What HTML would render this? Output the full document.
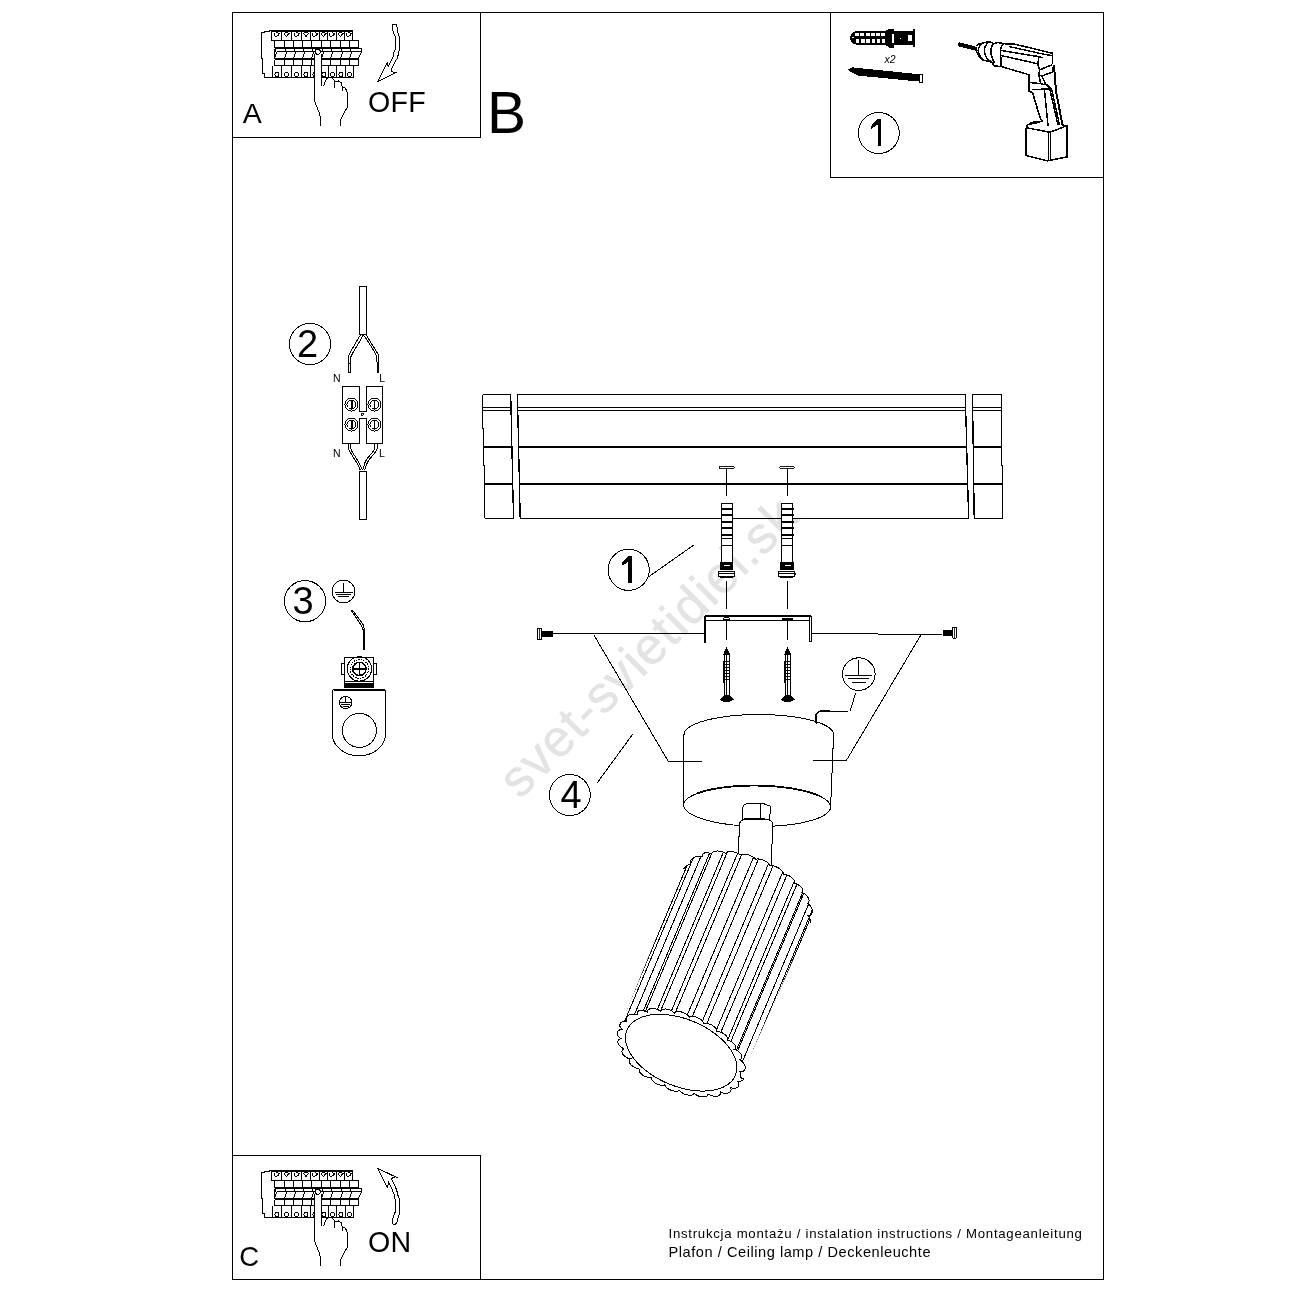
<!DOCTYPE html>
<html><head><meta charset="utf-8">
<style>
html,body{margin:0;padding:0;background:#fff;width:1300px;height:1300px;overflow:hidden}
svg{display:block;will-change:transform}
text{font-family:"Liberation Sans",sans-serif;fill:#000}
</style></head>
<body>
<svg width="1300" height="1300" viewBox="0 0 1300 1300" shape-rendering="crispEdges">
<g fill="none" stroke="#000" stroke-width="1" shape-rendering="crispEdges">
<rect x="232.5" y="12.5" width="871" height="1267"/>
<path d="M480.5 12.5V137.5H232.5"/>
<path d="M830.5 12.5V177.5H1103.5"/>
<path d="M232.5 1155.5H480.5V1279.5"/>
</g>
<text transform="translate(520,800.2) rotate(-45)" font-size="52" letter-spacing="1.05" fill="#e3e3e3" stroke="#e3e3e3" stroke-width="0.4" style="fill:#e3e3e3">svet-svietidiel.sk</text>
<text x="242.80" y="122.90" font-size="28.50" >A</text>
<text x="368.00" y="111.70" font-size="28.60" letter-spacing="0.3">OFF</text>
<text x="486.90" y="132.60" font-size="58.50" >B</text>
<text x="239.30" y="1265.90" font-size="27.50" >C</text>
<text x="368.00" y="1251.90" font-size="28.60" letter-spacing="0.3">ON</text>
<text x="668.50" y="1237.60" font-size="13.20" textLength="413.4" lengthAdjust="spacing">Instrukcja montażu / instalation instructions / Montageanleitung</text>
<text x="668.50" y="1256.90" font-size="14.60" textLength="262" lengthAdjust="spacing">Plafon / Ceiling lamp / Deckenleuchte</text>
<g fill="none" stroke="#000" stroke-width="1" shape-rendering="crispEdges"><path d="M271.50,30.50 L269.50,30.50 L269.50,31.50 L264.50,31.50 L264.50,32.50 L261.50,32.50 L261.50,58.50 L262.50,58.50 L262.50,73.50 L264.50,73.50 L264.50,77.50 L272.50,77.50" /><path d="M271.50,30.50 L352.50,30.50" stroke-width="2"/><path d="M271.50,30.50 L271.50,40.50 L274.50,40.50" /><path d="M352.50,30.50 L352.50,40.50" /><line x1="281.50" y1="30.50" x2="281.50" y2="40.50" stroke-width="1"/><line x1="291.50" y1="30.50" x2="291.50" y2="40.50" stroke-width="1"/><line x1="301.50" y1="30.50" x2="301.50" y2="40.50" stroke-width="1"/><line x1="310.50" y1="30.50" x2="310.50" y2="40.50" stroke-width="1"/><line x1="319.50" y1="30.50" x2="319.50" y2="40.50" stroke-width="1"/><line x1="327.50" y1="30.50" x2="327.50" y2="40.50" stroke-width="1"/><line x1="336.50" y1="30.50" x2="336.50" y2="40.50" stroke-width="1"/><line x1="344.50" y1="30.50" x2="344.50" y2="40.50" stroke-width="1"/><line x1="271.50" y1="40.50" x2="358.50" y2="40.50" stroke-width="1"/><path d="M274.00,32.50 L274.00,35.50 L275.50,36.50 L278.00,35.50 L279.00,33.50 L276.50,32.50" /><path d="M284.00,33.50 L286.50,36.50 L289.00,33.50 L287.50,32.50 L285.50,32.50 L284.00,33.50" /><path d="M294.00,32.50 L294.00,35.50 L295.50,36.50 L298.00,35.50 L299.00,33.50 L296.50,32.50" /><path d="M303.50,33.50 L306.00,36.50 L308.50,33.50 L307.00,32.50 L305.00,32.50 L303.50,33.50" /><path d="M312.50,32.50 L312.50,35.50 L314.00,36.50 L316.50,35.50 L317.50,33.50 L315.00,32.50" /><path d="M321.00,33.50 L323.50,36.50 L326.00,33.50 L324.50,32.50 L322.50,32.50 L321.00,33.50" /><path d="M329.50,32.50 L329.50,35.50 L331.00,36.50 L333.50,35.50 L334.50,33.50 L332.00,32.50" /><path d="M338.00,33.50 L340.50,36.50 L343.00,33.50 L341.50,32.50 L339.50,32.50 L338.00,33.50" /><path d="M346.00,32.50 L346.00,35.50 L347.50,36.50 L350.00,35.50 L351.00,33.50 L348.50,32.50" /><line x1="274.50" y1="40.50" x2="274.50" y2="47.50" stroke-width="1"/><line x1="284.50" y1="40.50" x2="284.50" y2="47.50" stroke-width="1"/><line x1="293.50" y1="40.50" x2="293.50" y2="47.50" stroke-width="1"/><line x1="302.50" y1="40.50" x2="302.50" y2="47.50" stroke-width="1"/><line x1="311.50" y1="40.50" x2="311.50" y2="47.50" stroke-width="1"/><line x1="321.50" y1="40.50" x2="321.50" y2="47.50" stroke-width="1"/><line x1="330.50" y1="40.50" x2="330.50" y2="47.50" stroke-width="1"/><line x1="340.50" y1="40.50" x2="340.50" y2="47.50" stroke-width="1"/><line x1="349.50" y1="40.50" x2="349.50" y2="47.50" stroke-width="1"/><line x1="358.50" y1="40.50" x2="358.50" y2="47.50" stroke-width="1"/><line x1="274.50" y1="47.50" x2="358.50" y2="47.50" stroke-width="1"/><line x1="274.50" y1="48.50" x2="361.50" y2="48.50" stroke-width="1"/><line x1="276.50" y1="51.50" x2="361.50" y2="51.50" stroke-width="1"/><path d="M361.50,48.50 L361.50,51.50 L358.50,58.50" /><path d="M274.50,48.50 L274.50,58.50" /><line x1="275.00" y1="48.50" x2="275.00" y2="51.50" stroke-width="1"/><line x1="277.00" y1="52.00" x2="274.50" y2="58.00" stroke-width="1"/><line x1="285.00" y1="48.50" x2="285.00" y2="51.50" stroke-width="1"/><line x1="287.00" y1="52.00" x2="284.50" y2="58.00" stroke-width="1"/><line x1="294.00" y1="48.50" x2="294.00" y2="51.50" stroke-width="1"/><line x1="296.00" y1="52.00" x2="293.50" y2="58.00" stroke-width="1"/><line x1="303.00" y1="48.50" x2="303.00" y2="51.50" stroke-width="1"/><line x1="305.00" y1="52.00" x2="302.50" y2="58.00" stroke-width="1"/><line x1="312.00" y1="48.50" x2="312.00" y2="51.50" stroke-width="1"/><line x1="314.00" y1="52.00" x2="311.50" y2="58.00" stroke-width="1"/><line x1="322.00" y1="48.50" x2="322.00" y2="51.50" stroke-width="1"/><line x1="324.00" y1="52.00" x2="321.50" y2="58.00" stroke-width="1"/><line x1="331.00" y1="48.50" x2="331.00" y2="51.50" stroke-width="1"/><line x1="333.00" y1="52.00" x2="330.50" y2="58.00" stroke-width="1"/><line x1="341.00" y1="48.50" x2="341.00" y2="51.50" stroke-width="1"/><line x1="343.00" y1="52.00" x2="340.50" y2="58.00" stroke-width="1"/><line x1="350.00" y1="48.50" x2="350.00" y2="51.50" stroke-width="1"/><line x1="352.00" y1="52.00" x2="349.50" y2="58.00" stroke-width="1"/><line x1="274.50" y1="58.50" x2="358.50" y2="58.50" stroke-width="2"/><line x1="274.50" y1="59.50" x2="274.50" y2="65.50" stroke-width="1"/><line x1="284.50" y1="59.50" x2="284.50" y2="65.50" stroke-width="1"/><line x1="293.50" y1="59.50" x2="293.50" y2="65.50" stroke-width="1"/><line x1="302.50" y1="59.50" x2="302.50" y2="65.50" stroke-width="1"/><line x1="311.50" y1="59.50" x2="311.50" y2="65.50" stroke-width="1"/><line x1="321.50" y1="59.50" x2="321.50" y2="65.50" stroke-width="1"/><line x1="330.50" y1="59.50" x2="330.50" y2="65.50" stroke-width="1"/><line x1="340.50" y1="59.50" x2="340.50" y2="65.50" stroke-width="1"/><line x1="349.50" y1="59.50" x2="349.50" y2="65.50" stroke-width="1"/><line x1="358.50" y1="59.50" x2="358.50" y2="65.50" stroke-width="1"/><line x1="274.50" y1="65.50" x2="358.50" y2="65.50" stroke-width="1"/><line x1="272.50" y1="65.50" x2="272.50" y2="77.50" stroke-width="1"/><line x1="281.50" y1="65.50" x2="281.50" y2="77.50" stroke-width="1"/><line x1="291.50" y1="65.50" x2="291.50" y2="77.50" stroke-width="1"/><line x1="301.50" y1="65.50" x2="301.50" y2="77.50" stroke-width="1"/><line x1="310.50" y1="65.50" x2="310.50" y2="77.50" stroke-width="1"/><line x1="319.50" y1="65.50" x2="319.50" y2="77.50" stroke-width="1"/><line x1="328.50" y1="65.50" x2="328.50" y2="77.50" stroke-width="1"/><line x1="336.50" y1="65.50" x2="336.50" y2="77.50" stroke-width="1"/><line x1="345.50" y1="65.50" x2="345.50" y2="77.50" stroke-width="1"/><line x1="353.50" y1="65.50" x2="353.50" y2="77.50" stroke-width="1"/><line x1="264.50" y1="77.50" x2="353.50" y2="77.50" stroke-width="1"/><circle cx="277.00" cy="74.50" r="2"/><circle cx="286.50" cy="74.50" r="2"/><circle cx="296.50" cy="74.50" r="2"/><circle cx="306.00" cy="74.50" r="2"/><circle cx="315.00" cy="74.50" r="2"/><circle cx="324.00" cy="74.50" r="2"/><circle cx="332.50" cy="74.50" r="2"/><circle cx="341.00" cy="74.50" r="2"/><circle cx="349.50" cy="74.50" r="2"/></g>
<path d="M314.50,53.50 L316.00,51.00 L318.00,50.00 L320.00,50.50 L321.50,53.00 L321.50,85.50 L323.50,86.00 L325.50,81.00 L327.00,78.50 L329.00,77.50 L332.00,77.50 L334.00,80.00 L334.50,88.50 L335.50,82.00 L338.50,81.00 L341.00,82.50 L342.00,86.00 L342.00,91.00 L343.00,87.00 L345.50,88.50 L347.00,91.50 L347.50,107.00 L344.00,113.00 L341.00,119.00 L340.50,126.00 L320.50,126.00 L320.50,118.00 L319.00,112.00 L316.00,105.00 L314.50,100.50 Z" fill="#fff" stroke="none"/>
<g fill="none" stroke="#000" stroke-width="1"><path d="M320.50,126.00 L320.50,118.00 L319.00,112.00 L316.00,105.00 L314.50,100.50 L314.50,54.00"/><path d="M321.50,54.00 L321.50,85.50"/><path d="M323.50,86.50 L325.50,81.00 L327.00,78.50 L329.00,77.50 L332.00,77.50 L334.00,80.00 L334.50,88.50"/><path d="M335.50,82.00 L338.50,81.00 L341.00,82.50 L342.00,86.00 L342.00,91.00"/><path d="M343.00,87.00 L345.50,88.50 L347.00,91.50 L347.50,107.00 L344.00,113.00 L341.00,119.00 L340.50,126.00"/></g>
<circle cx="317.8" cy="51.80" r="2.6" fill="#fff" stroke="#000" stroke-width="1"/>
<g fill="none" stroke="#000" stroke-width="1" shape-rendering="crispEdges"><path d="M271.50,1170.50 L269.50,1170.50 L269.50,1171.50 L264.50,1171.50 L264.50,1172.50 L261.50,1172.50 L261.50,1198.50 L262.50,1198.50 L262.50,1213.50 L264.50,1213.50 L264.50,1217.50 L272.50,1217.50" /><path d="M271.50,1170.50 L352.50,1170.50" stroke-width="2"/><path d="M271.50,1170.50 L271.50,1180.50 L274.50,1180.50" /><path d="M352.50,1170.50 L352.50,1180.50" /><line x1="281.50" y1="1170.50" x2="281.50" y2="1180.50" stroke-width="1"/><line x1="291.50" y1="1170.50" x2="291.50" y2="1180.50" stroke-width="1"/><line x1="301.50" y1="1170.50" x2="301.50" y2="1180.50" stroke-width="1"/><line x1="310.50" y1="1170.50" x2="310.50" y2="1180.50" stroke-width="1"/><line x1="319.50" y1="1170.50" x2="319.50" y2="1180.50" stroke-width="1"/><line x1="327.50" y1="1170.50" x2="327.50" y2="1180.50" stroke-width="1"/><line x1="336.50" y1="1170.50" x2="336.50" y2="1180.50" stroke-width="1"/><line x1="344.50" y1="1170.50" x2="344.50" y2="1180.50" stroke-width="1"/><line x1="271.50" y1="1180.50" x2="358.50" y2="1180.50" stroke-width="1"/><path d="M274.00,1172.50 L274.00,1175.50 L275.50,1176.50 L278.00,1175.50 L279.00,1173.50 L276.50,1172.50" /><path d="M284.00,1173.50 L286.50,1176.50 L289.00,1173.50 L287.50,1172.50 L285.50,1172.50 L284.00,1173.50" /><path d="M294.00,1172.50 L294.00,1175.50 L295.50,1176.50 L298.00,1175.50 L299.00,1173.50 L296.50,1172.50" /><path d="M303.50,1173.50 L306.00,1176.50 L308.50,1173.50 L307.00,1172.50 L305.00,1172.50 L303.50,1173.50" /><path d="M312.50,1172.50 L312.50,1175.50 L314.00,1176.50 L316.50,1175.50 L317.50,1173.50 L315.00,1172.50" /><path d="M321.00,1173.50 L323.50,1176.50 L326.00,1173.50 L324.50,1172.50 L322.50,1172.50 L321.00,1173.50" /><path d="M329.50,1172.50 L329.50,1175.50 L331.00,1176.50 L333.50,1175.50 L334.50,1173.50 L332.00,1172.50" /><path d="M338.00,1173.50 L340.50,1176.50 L343.00,1173.50 L341.50,1172.50 L339.50,1172.50 L338.00,1173.50" /><path d="M346.00,1172.50 L346.00,1175.50 L347.50,1176.50 L350.00,1175.50 L351.00,1173.50 L348.50,1172.50" /><line x1="274.50" y1="1180.50" x2="274.50" y2="1187.50" stroke-width="1"/><line x1="284.50" y1="1180.50" x2="284.50" y2="1187.50" stroke-width="1"/><line x1="293.50" y1="1180.50" x2="293.50" y2="1187.50" stroke-width="1"/><line x1="302.50" y1="1180.50" x2="302.50" y2="1187.50" stroke-width="1"/><line x1="311.50" y1="1180.50" x2="311.50" y2="1187.50" stroke-width="1"/><line x1="321.50" y1="1180.50" x2="321.50" y2="1187.50" stroke-width="1"/><line x1="330.50" y1="1180.50" x2="330.50" y2="1187.50" stroke-width="1"/><line x1="340.50" y1="1180.50" x2="340.50" y2="1187.50" stroke-width="1"/><line x1="349.50" y1="1180.50" x2="349.50" y2="1187.50" stroke-width="1"/><line x1="358.50" y1="1180.50" x2="358.50" y2="1187.50" stroke-width="1"/><line x1="274.50" y1="1187.50" x2="358.50" y2="1187.50" stroke-width="1"/><line x1="274.50" y1="1188.50" x2="361.50" y2="1188.50" stroke-width="1"/><line x1="276.50" y1="1191.50" x2="361.50" y2="1191.50" stroke-width="1"/><path d="M361.50,1188.50 L361.50,1191.50 L358.50,1198.50" /><path d="M274.50,1188.50 L274.50,1198.50" /><line x1="275.00" y1="1188.50" x2="275.00" y2="1191.50" stroke-width="1"/><line x1="277.00" y1="1192.00" x2="274.50" y2="1198.00" stroke-width="1"/><line x1="285.00" y1="1188.50" x2="285.00" y2="1191.50" stroke-width="1"/><line x1="287.00" y1="1192.00" x2="284.50" y2="1198.00" stroke-width="1"/><line x1="294.00" y1="1188.50" x2="294.00" y2="1191.50" stroke-width="1"/><line x1="296.00" y1="1192.00" x2="293.50" y2="1198.00" stroke-width="1"/><line x1="303.00" y1="1188.50" x2="303.00" y2="1191.50" stroke-width="1"/><line x1="305.00" y1="1192.00" x2="302.50" y2="1198.00" stroke-width="1"/><line x1="312.00" y1="1188.50" x2="312.00" y2="1191.50" stroke-width="1"/><line x1="314.00" y1="1192.00" x2="311.50" y2="1198.00" stroke-width="1"/><line x1="322.00" y1="1188.50" x2="322.00" y2="1191.50" stroke-width="1"/><line x1="324.00" y1="1192.00" x2="321.50" y2="1198.00" stroke-width="1"/><line x1="331.00" y1="1188.50" x2="331.00" y2="1191.50" stroke-width="1"/><line x1="333.00" y1="1192.00" x2="330.50" y2="1198.00" stroke-width="1"/><line x1="341.00" y1="1188.50" x2="341.00" y2="1191.50" stroke-width="1"/><line x1="343.00" y1="1192.00" x2="340.50" y2="1198.00" stroke-width="1"/><line x1="350.00" y1="1188.50" x2="350.00" y2="1191.50" stroke-width="1"/><line x1="352.00" y1="1192.00" x2="349.50" y2="1198.00" stroke-width="1"/><line x1="274.50" y1="1198.50" x2="358.50" y2="1198.50" stroke-width="2"/><line x1="274.50" y1="1199.50" x2="274.50" y2="1205.50" stroke-width="1"/><line x1="284.50" y1="1199.50" x2="284.50" y2="1205.50" stroke-width="1"/><line x1="293.50" y1="1199.50" x2="293.50" y2="1205.50" stroke-width="1"/><line x1="302.50" y1="1199.50" x2="302.50" y2="1205.50" stroke-width="1"/><line x1="311.50" y1="1199.50" x2="311.50" y2="1205.50" stroke-width="1"/><line x1="321.50" y1="1199.50" x2="321.50" y2="1205.50" stroke-width="1"/><line x1="330.50" y1="1199.50" x2="330.50" y2="1205.50" stroke-width="1"/><line x1="340.50" y1="1199.50" x2="340.50" y2="1205.50" stroke-width="1"/><line x1="349.50" y1="1199.50" x2="349.50" y2="1205.50" stroke-width="1"/><line x1="358.50" y1="1199.50" x2="358.50" y2="1205.50" stroke-width="1"/><line x1="274.50" y1="1205.50" x2="358.50" y2="1205.50" stroke-width="1"/><line x1="272.50" y1="1205.50" x2="272.50" y2="1217.50" stroke-width="1"/><line x1="281.50" y1="1205.50" x2="281.50" y2="1217.50" stroke-width="1"/><line x1="291.50" y1="1205.50" x2="291.50" y2="1217.50" stroke-width="1"/><line x1="301.50" y1="1205.50" x2="301.50" y2="1217.50" stroke-width="1"/><line x1="310.50" y1="1205.50" x2="310.50" y2="1217.50" stroke-width="1"/><line x1="319.50" y1="1205.50" x2="319.50" y2="1217.50" stroke-width="1"/><line x1="328.50" y1="1205.50" x2="328.50" y2="1217.50" stroke-width="1"/><line x1="336.50" y1="1205.50" x2="336.50" y2="1217.50" stroke-width="1"/><line x1="345.50" y1="1205.50" x2="345.50" y2="1217.50" stroke-width="1"/><line x1="353.50" y1="1205.50" x2="353.50" y2="1217.50" stroke-width="1"/><line x1="264.50" y1="1217.50" x2="353.50" y2="1217.50" stroke-width="1"/><circle cx="277.00" cy="1214.50" r="2"/><circle cx="286.50" cy="1214.50" r="2"/><circle cx="296.50" cy="1214.50" r="2"/><circle cx="306.00" cy="1214.50" r="2"/><circle cx="315.00" cy="1214.50" r="2"/><circle cx="324.00" cy="1214.50" r="2"/><circle cx="332.50" cy="1214.50" r="2"/><circle cx="341.00" cy="1214.50" r="2"/><circle cx="349.50" cy="1214.50" r="2"/></g>
<path d="M314.50,1193.50 L316.00,1191.00 L318.00,1190.00 L320.00,1190.50 L321.50,1193.00 L321.50,1225.50 L323.50,1226.00 L325.50,1221.00 L327.00,1218.50 L329.00,1217.50 L332.00,1217.50 L334.00,1220.00 L334.50,1228.50 L335.50,1222.00 L338.50,1221.00 L341.00,1222.50 L342.00,1226.00 L342.00,1231.00 L343.00,1227.00 L345.50,1228.50 L347.00,1231.50 L347.50,1247.00 L344.00,1253.00 L341.00,1259.00 L340.50,1266.00 L320.50,1266.00 L320.50,1258.00 L319.00,1252.00 L316.00,1245.00 L314.50,1240.50 Z" fill="#fff" stroke="none"/>
<g fill="none" stroke="#000" stroke-width="1"><path d="M320.50,1266.00 L320.50,1258.00 L319.00,1252.00 L316.00,1245.00 L314.50,1240.50 L314.50,1194.00"/><path d="M321.50,1194.00 L321.50,1225.50"/><path d="M323.50,1226.50 L325.50,1221.00 L327.00,1218.50 L329.00,1217.50 L332.00,1217.50 L334.00,1220.00 L334.50,1228.50"/><path d="M335.50,1222.00 L338.50,1221.00 L341.00,1222.50 L342.00,1226.00 L342.00,1231.00"/><path d="M343.00,1227.00 L345.50,1228.50 L347.00,1231.50 L347.50,1247.00 L344.00,1253.00 L341.00,1259.00 L340.50,1266.00"/></g>
<circle cx="317.8" cy="1191.80" r="2.6" fill="#fff" stroke="#000" stroke-width="1"/>
<path d="M392.20,24.80 L396.20,24.80 L397.30,28.20 L397.80,32.50 L398.90,35.80 L399.40,36.30 L399.40,49.80 L398.40,53.50 L397.60,57.80 L396.20,60.00 L391.60,69.10 L391.60,71.30 L394.90,72.90 L397.30,72.40 L394.90,72.90 L377.90,81.50 L387.10,62.70 L388.10,66.40 L393.00,57.30 L393.50,55.10 L394.30,50.30 L395.40,49.80 L395.40,36.30 L394.60,35.80 L393.50,32.50 L392.40,28.20 L392.20,24.80" fill="none" stroke="#000" stroke-width="1"/>
<path d="M377.50,1168.20 L395.30,1176.80 L397.70,1177.30 L395.30,1176.80 L392.10,1178.20 L391.50,1179.20 L395.80,1187.80 L396.90,1191.10 L398.00,1195.40 L399.30,1199.10 L399.30,1213.70 L398.00,1218.00 L396.90,1222.30 L395.30,1224.50 L393.10,1224.50 L392.30,1222.80 L392.30,1220.10 L393.70,1215.80 L395.00,1212.60 L395.00,1199.10 L394.00,1194.30 L392.60,1190.50 L388.60,1182.50 L387.50,1187.30 L386.20,1185.10 L377.50,1168.20" fill="none" stroke="#000" stroke-width="1"/>
<path d="M856.5,31.1 L885.4,31.1 L889.5,28.8 L893.5,28.5 L893.5,30.8 L912.5,30.8 L912.5,29.3 L914.8,29.3 L914.8,46.6 L912.5,46.6 L912.5,45.2 L893.5,45.2 L893.5,48.4 L889.5,48.2 L885.4,44.6 L856.5,44.6 C852.5,44.6 850.2,41.5 850.2,37.9 C850.2,34.3 852.5,31.1 856.5,31.1 Z" fill="#000"/>
<g fill="#fff"><rect x="855.3" y="33.2" width="3.5" height="3.1"/><rect x="855.8" y="38.9" width="3.5" height="3.6"/><rect x="860.2" y="33.2" width="4.1" height="3.1"/><rect x="860.7" y="38.9" width="4.1" height="3.6"/><rect x="865.8" y="33.2" width="4.0" height="3.1"/><rect x="866.3" y="38.9" width="4.0" height="3.6"/><rect x="871.2" y="33.2" width="3.4" height="3.1"/><rect x="871.7" y="38.9" width="3.4" height="3.6"/><rect x="876.1" y="33.2" width="3.7" height="3.1"/><rect x="876.6" y="38.9" width="3.7" height="3.6"/><rect x="881.3" y="33.2" width="3.3" height="3.1"/><rect x="881.8" y="38.9" width="3.3" height="3.6"/><rect x="852.4" y="37" width="1.6" height="1.4"/><rect x="892" y="34.2" width="1.6" height="8.4"/><rect x="907.9" y="35.1" width="4" height="5.8"/><rect x="897.5" y="38" width="0.8" height="0.8"/><rect x="900" y="38" width="0.8" height="0.8"/></g>
<text x="884.50" y="62.70" font-size="10.50" font-style="italic">x2</text>
<path d="M848.00,69.60 L852.50,67.40 L918.80,74.20 L918.80,81.50 L858.00,75.60 L851.00,72.20 Z" fill="#000" stroke="none"/>
<rect x="919.8" y="74.8" width="2.8" height="7.6" fill="#fff" stroke="#000" stroke-width="1"/>
<circle cx="878.80" cy="133.00" r="20.50" fill="none" stroke="#000" stroke-width="1"/>
<path d="M880.90,119.10 L880.90,145.80 L877.60,145.80 L877.60,124.80 L871.00,128.90 L871.00,126.10 L877.30,119.10 Z" fill="#000" stroke="none"/>
<g fill="none" stroke="#000" stroke-width="1.5" stroke-linejoin="round"><path d="M959,42.2 L976.5,46.8 L976.5,51 L959,46.4 C957.5,46 957.3,42.6 959,42.2 Z" fill="#000" stroke="none"/><path d="M976.5,46 C978,44 980,43.5 982.5,43 L988.5,41.6 L994,43.5 L998,42.5 L1005,43.8 L1015,44.2 L1052.7,53.3 L1052.5,64.5" /><path d="M976.5,51.5 C978,55 980,58 983,60 L991.5,62 L994.5,66 L1001,66.5 L1027.5,74.3" /><path d="M982,44 C979,46 977.5,49 978.5,53 C979.5,56 981,58 983,60" /><path d="M989.5,41.6 C986,44 984,48 984.5,52 C985,56 987,59.5 991.5,62" /><path d="M993.8,43.8 C991.5,46 990.5,50 991,53 C991.2,56 992.5,59 994.5,63" /><path d="M1003.5,44 C1001,46 1000.5,48.5 1000.5,50.5 L1001.2,66.5" /><path d="M1001,50.5 L1038,56.5 L1042.5,57.8" /><path d="M1001,55.5 L1036.5,63.5 L1038.5,64.5" /><path d="M1009,46.5 L1045,54.5 L1052,55.5" /><path d="M1038.5,57.5 L1038,64.5 L1039.5,70 L1052.5,64.5" /><path d="M1039.5,70 L1039,74.8 L1042,76 L1052.5,72 L1053.5,65" /><path d="M1027.5,74.3 L1028.9,74.4 L1028.9,91.2 L1032.5,92.5 L1040,117.5 L1042,121.2 L1038.4,122.3 L1028,124.5 L1026,127.7" stroke-width="1.6"/><path d="M1054,65 L1056,91.5 L1062.5,124.8" stroke-width="2"/><path d="M1044.5,90.5 L1048,125.6" /><path d="M1050,90 L1058,125" /><path d="M1051.8,90 L1059.5,125" /><path d="M1029.5,82.5 L1039.5,83.5 L1047,85 L1051,89 L1032,89.5" /><path d="M1039,75 L1040.5,83.5" /><path d="M1042,76 L1045.5,84" /><path d="M1026,127.7 L1026,155.5 L1047.2,160.8 L1066.9,157 L1066.9,125.6 L1062.5,125.2" stroke-width="1.6"/><path d="M1026,127.7 L1049.4,132.1 L1055,130.5 L1066.9,125.6" /><path d="M1048.5,132 L1048.5,160" /><path d="M1050.6,132 L1050.6,160" /><path d="M1029,124.8 L1031,122.5 L1038.4,121.5" /></g>
<circle cx="310" cy="344" r="20.6" fill="none" stroke="#000" stroke-width="1"/>
<text x="297.00" y="356.60" font-size="38.00" >2</text>
<g fill="none" stroke="#000" stroke-width="1" shape-rendering="crispEdges"><rect x="359.5" y="286.5" width="7" height="48"/><rect x="359.5" y="471.5" width="7" height="48"/><path d="M360.5,335 L358.5,338 L350.5,352 L348.5,356 L348.5,372.5 L350.8,372.5 L350.8,357 L352.5,353.5 L361,339 L363,335"/><path d="M348.5,363 L350.8,363"/><path d="M363,335 L366.5,339 L375.5,353.5 L376.5,356 L376.5,362"/><path d="M366.5,335 L368,338 L378,354 L378.8,357 L378.8,362 L376.5,362"/><path d="M377.6,362 L377.6,372.5" stroke-width="2"/><path d="M342.5,386.5 H359.5 V411.5 H366.5 V386.5 H382.5 V443.5 H366.5 V418.5 H359.5 V443.5 H342.5 Z"/><path d="M348.5,444 L348.5,448.5 L350,452 L357.5,464 L360.5,470.5"/><path d="M350.5,444 L350.5,448 L352,451.5 L359.5,463.5 L362.5,470.5"/><path d="M374.7,444 L374.7,448.5 L373,451.5 L366.5,459.5 L365,462.5 L362.5,470.5"/><path d="M377.2,444 L377.2,449 L375.5,452 L368.5,460.5 L367.2,463 L364.5,470.5"/></g>
<circle cx="351.50" cy="404.50" r="6.5" fill="none" stroke="#000" stroke-width="1"/><circle cx="351.50" cy="404.50" r="4.5" fill="none" stroke="#000" stroke-width="1"/><rect x="350.50" y="401.30" width="2.00" height="6.5" fill="#000"/><circle cx="351.50" cy="424.50" r="6.5" fill="none" stroke="#000" stroke-width="1"/><circle cx="351.50" cy="424.50" r="4.5" fill="none" stroke="#000" stroke-width="1"/><rect x="350.50" y="421.30" width="2.00" height="6.5" fill="#000"/><circle cx="374.50" cy="404.50" r="6.5" fill="none" stroke="#000" stroke-width="1"/><circle cx="374.50" cy="404.50" r="4.5" fill="none" stroke="#000" stroke-width="1"/><rect x="374.00" y="401.30" width="1.00" height="6.5" fill="#000"/><circle cx="374.50" cy="424.50" r="6.5" fill="none" stroke="#000" stroke-width="1"/><circle cx="374.50" cy="424.50" r="4.5" fill="none" stroke="#000" stroke-width="1"/><rect x="374.00" y="421.30" width="1.00" height="6.5" fill="#000"/>
<path d="M361.7,412.5 L361.7,416 L364.2,414.3 Z" fill="none" stroke="#000" stroke-width="0.9"/>
<text x="333.00" y="381.70" font-size="10.50" >N</text>
<text x="379.20" y="381.70" font-size="10.50" >L</text>
<text x="333.00" y="456.80" font-size="10.50" >N</text>
<text x="379.10" y="456.80" font-size="10.50" >L</text>
<circle cx="305" cy="601.2" r="20.6" fill="none" stroke="#000" stroke-width="1"/>
<text x="292.40" y="613.60" font-size="38.00" >3</text>
<circle cx="343.50" cy="591.50" r="11.30" fill="none" stroke="#000" stroke-width="1"/><g stroke="#000" stroke-width="1" shape-rendering="crispEdges"><line x1="343.50" y1="582.90" x2="343.50" y2="592.20"/><line x1="334.50" y1="592.20" x2="352.50" y2="592.20"/><line x1="336.30" y1="594.30" x2="350.70" y2="594.30"/><line x1="338.40" y1="596.40" x2="348.60" y2="596.40"/></g>
<path d="M351.1,610.2 L357,619 L361.5,625.5 L363.2,630 L363.2,638.3 L364.8,638.3 L364.8,630 L363,624.5 L358.5,618 L352.5,610" fill="none" stroke="#000" stroke-width="1"/>
<line x1="364" y1="638.3" x2="364" y2="649.5" stroke="#000" stroke-width="1.6"/>
<g fill="none" stroke="#000" stroke-width="1"><path d="M332.3,692 Q332.3,689.5 335,689.5 L383,689.5 Q385.6,689.5 385.6,692 L385.6,733.8 A26.65,22 0 0 1 332.3,733.8 Z" fill="#fff"/><line x1="333.5" y1="689.6" x2="384.5" y2="689.6" stroke-width="2"/><circle cx="359.4" cy="730.4" r="17" /><rect x="344.6" y="657.2" width="29.2" height="30" fill="#fff"/><rect x="341.2" y="663.1" width="3.4" height="11.5" fill="#fff"/><rect x="373.8" y="663.1" width="3" height="11.5" fill="#fff"/><circle cx="359.4" cy="668.9" r="12.2"/><circle cx="359.4" cy="668.9" r="9.3" stroke-dasharray="1.5 1"/><circle cx="359.4" cy="668.9" r="6.6" stroke-width="1.6"/><line x1="354" y1="668.9" x2="365" y2="668.9" stroke-width="1.4"/><line x1="359.4" y1="663" x2="359.4" y2="674.5" stroke-width="1.4"/><rect x="344.6" y="681.3" width="29.2" height="6" fill="#000"/><line x1="345" y1="682.8" x2="373.4" y2="682.8" stroke="#fff" stroke-width="1"/><circle cx="345.6" cy="702.5" r="6.2"/><line x1="345.6" y1="697" x2="345.6" y2="702"/><line x1="340" y1="702.5" x2="351.2" y2="702.5"/><line x1="341" y1="704.5" x2="350" y2="704.5"/><line x1="342.5" y1="706.5" x2="348.5" y2="706.5"/></g>
<g fill="none" stroke="#000" stroke-width="1"><line x1="482.50" y1="394.50" x2="510.70" y2="394.50" stroke-width="1"/><line x1="517.40" y1="394.50" x2="965.30" y2="394.50" stroke-width="1"/><line x1="972.50" y1="394.50" x2="1001.60" y2="394.50" stroke-width="1"/><line x1="482.50" y1="407.80" x2="511.00" y2="407.80" stroke-width="1"/><line x1="517.70" y1="407.80" x2="965.65" y2="407.80" stroke-width="1"/><line x1="972.68" y1="407.80" x2="1001.60" y2="407.80" stroke-width="1"/><line x1="482.50" y1="410.70" x2="511.07" y2="410.70" stroke-width="1"/><line x1="517.77" y1="410.70" x2="965.73" y2="410.70" stroke-width="1"/><line x1="972.72" y1="410.70" x2="1001.60" y2="410.70" stroke-width="1"/><line x1="483.50" y1="446.90" x2="511.89" y2="446.90" stroke-width="2"/><line x1="518.59" y1="446.90" x2="966.70" y2="446.90" stroke-width="2"/><line x1="973.22" y1="446.90" x2="1001.60" y2="446.90" stroke-width="2"/><line x1="484.50" y1="483.70" x2="512.72" y2="483.70" stroke-width="2"/><line x1="519.42" y1="483.70" x2="967.68" y2="483.70" stroke-width="2"/><line x1="973.73" y1="483.70" x2="1002.50" y2="483.70" stroke-width="2"/><line x1="484.50" y1="518.20" x2="513.50" y2="518.20" stroke-width="1"/><line x1="520.20" y1="518.20" x2="968.60" y2="518.20" stroke-width="1"/><line x1="974.20" y1="518.20" x2="1002.50" y2="518.20" stroke-width="1"/><path d="M482.5,394.5 V428.5 H483.5 V465.3 H484.5 V518.2"/><path d="M1001.6,394.5 V465.4 H1002.5 V518.2"/><line x1="510.7" y1="394.5" x2="513.5" y2="518.2" stroke-width="1.3"/><line x1="517.4" y1="394.5" x2="520.2" y2="518.2" stroke-width="1.3"/><line x1="965.3" y1="394.5" x2="968.6" y2="518.2" stroke-width="1.3"/><line x1="972.5" y1="394.5" x2="974.2" y2="518.2" stroke-width="1.3"/></g>
<rect x="719.10" y="466.8" width="15" height="1.8" rx="0.9" fill="#fff" stroke="#000" stroke-width="0.9"/><line x1="726.60" y1="468" x2="726.60" y2="495.5" stroke="#000" stroke-width="1"/><rect x="779.70" y="466.8" width="15" height="1.8" rx="0.9" fill="#fff" stroke="#000" stroke-width="0.9"/><line x1="787.20" y1="468" x2="787.20" y2="495.5" stroke="#000" stroke-width="1"/>
<g fill="none" stroke="#000" stroke-width="1"><rect x="721.40" y="503.5" width="11" height="59" fill="#fff"/><line x1="721.40" y1="508.70" x2="733.20" y2="508.70" stroke-width="2"/><line x1="721.40" y1="514.80" x2="733.20" y2="514.80" stroke-width="2"/><line x1="721.40" y1="521.60" x2="733.20" y2="521.60" stroke-width="2"/><line x1="721.40" y1="527.70" x2="733.20" y2="527.70" stroke-width="2"/><line x1="721.40" y1="534.50" x2="733.20" y2="534.50" stroke-width="2"/><line x1="721.40" y1="538.1" x2="732.40" y2="538.1"/><line x1="721.40" y1="545.8" x2="732.40" y2="545.8"/><rect x="720.10" y="562.6" width="12.6" height="7.2" fill="#000"/><line x1="724.40" y1="565.5" x2="730.40" y2="565.5" stroke="#fff"/><rect x="718.10" y="571.2" width="16.4" height="5.7" rx="2" fill="#fff" stroke-width="1.2"/><line x1="718.90" y1="573.2" x2="733.90" y2="573.2"/></g><g fill="none" stroke="#000" stroke-width="1"><rect x="781.80" y="503.5" width="11" height="59" fill="#fff"/><line x1="781.80" y1="508.70" x2="793.60" y2="508.70" stroke-width="2"/><line x1="781.80" y1="514.80" x2="793.60" y2="514.80" stroke-width="2"/><line x1="781.80" y1="521.60" x2="793.60" y2="521.60" stroke-width="2"/><line x1="781.80" y1="527.70" x2="793.60" y2="527.70" stroke-width="2"/><line x1="781.80" y1="534.50" x2="793.60" y2="534.50" stroke-width="2"/><line x1="781.80" y1="538.1" x2="792.80" y2="538.1"/><line x1="781.80" y1="545.8" x2="792.80" y2="545.8"/><rect x="780.50" y="562.6" width="12.6" height="7.2" fill="#000"/><line x1="784.80" y1="565.5" x2="790.80" y2="565.5" stroke="#fff"/><rect x="778.50" y="571.2" width="16.4" height="5.7" rx="2" fill="#fff" stroke-width="1.2"/><line x1="779.30" y1="573.2" x2="794.30" y2="573.2"/></g>
<g fill="none" stroke="#000" stroke-width="1"><line x1="704.5" y1="615.8" x2="810.6" y2="615.8" stroke-width="2"/><line x1="705.5" y1="620.6" x2="809.6" y2="620.6"/><line x1="704.5" y1="615.8" x2="704.5" y2="642.7" stroke-width="2"/><rect x="809.5" y="616.5" width="2" height="24.8"/><line x1="726.4" y1="581.3" x2="726.4" y2="608.8"/><line x1="787.5" y1="581.3" x2="787.5" y2="608.8"/><line x1="726.4" y1="620.6" x2="726.4" y2="640.1"/><line x1="787.5" y1="620.6" x2="787.5" y2="640.1"/><ellipse cx="726.5" cy="618.8" rx="3.5" ry="1" /><rect x="782" y="618" width="10" height="1.6" fill="#000"/><line x1="552.8" y1="634" x2="704" y2="633.6"/><line x1="811.8" y1="633.5" x2="942.5" y2="634.5"/><polyline points="593.7,634.7 668.2,761.2 701.8,761.2"/><polyline points="921,634.8 846.4,760.4 813.1,760.4"/></g>
<rect x="541.8" y="631" width="11" height="5.6" fill="#000"/>
<rect x="537.6" y="628.3" width="4" height="11.4" rx="1.3" fill="#fff" stroke="#000" stroke-width="1"/>
<line x1="539.6" y1="628.8" x2="539.6" y2="639.2" stroke="#000" stroke-width="0.8"/>
<rect x="942.5" y="630.3" width="9.8" height="5.2" fill="#000"/>
<rect x="952.4" y="627.2" width="4.4" height="10.9" rx="1.3" fill="#fff" stroke="#000" stroke-width="1"/>
<line x1="954.6" y1="627.7" x2="954.6" y2="637.6" stroke="#000" stroke-width="0.8"/>
<g fill="none" stroke="#000" stroke-width="1"><path d="M726.40,648.1 L724.00,654 L729.30,654 Z" fill="#000"/><rect x="724.20" y="654" width="5.7" height="41.5" fill="#fff"/><line x1="726.60" y1="654" x2="726.60" y2="695.5"/><line x1="723.30" y1="662" x2="723.30" y2="682.6"/><line x1="723.30" y1="661.50" x2="729.90" y2="661.50"/><line x1="723.30" y1="664.50" x2="729.90" y2="664.50"/><line x1="723.30" y1="667.50" x2="729.90" y2="667.50"/><line x1="723.30" y1="670.50" x2="729.90" y2="670.50"/><line x1="723.30" y1="673.50" x2="729.90" y2="673.50"/><line x1="723.30" y1="676.50" x2="729.90" y2="676.50"/><line x1="723.30" y1="679.50" x2="729.90" y2="679.50"/><path d="M723.90,696 L729.90,696 L732.90,699.5 L729.40,701.3 L723.90,701.3 L720.40,699.5 Z" fill="#000"/></g><g fill="none" stroke="#000" stroke-width="1"><path d="M787.40,648.1 L785.00,654 L790.30,654 Z" fill="#000"/><rect x="785.20" y="654" width="5.7" height="41.5" fill="#fff"/><line x1="787.60" y1="654" x2="787.60" y2="695.5"/><line x1="784.30" y1="662" x2="784.30" y2="682.6"/><line x1="784.30" y1="661.50" x2="790.90" y2="661.50"/><line x1="784.30" y1="664.50" x2="790.90" y2="664.50"/><line x1="784.30" y1="667.50" x2="790.90" y2="667.50"/><line x1="784.30" y1="670.50" x2="790.90" y2="670.50"/><line x1="784.30" y1="673.50" x2="790.90" y2="673.50"/><line x1="784.30" y1="676.50" x2="790.90" y2="676.50"/><line x1="784.30" y1="679.50" x2="790.90" y2="679.50"/><path d="M784.90,696 L790.90,696 L793.90,699.5 L790.40,701.3 L784.90,701.3 L781.40,699.5 Z" fill="#000"/></g>
<g fill="none" stroke="#000" stroke-width="1"><path d="M833.60,734.50 L833.50,733.45 L833.19,732.41 L832.68,731.37 L831.97,730.34 L831.05,729.32 L829.94,728.32 L828.63,727.33 L827.13,726.37 L825.45,725.42 L823.58,724.50 L821.53,723.61 L819.31,722.74 L816.93,721.91 L814.39,721.12 L811.69,720.36 L808.85,719.64 L805.87,718.96 L802.77,718.32 L799.54,717.73 L796.20,717.18 L792.76,716.68 L789.22,716.23 L785.61,715.83 L781.91,715.48 L778.16,715.18 L774.35,714.94 L770.50,714.75 L766.62,714.61 L762.71,714.53 L758.80,714.50 L754.89,714.53 L750.98,714.61 L747.10,714.75 L743.25,714.94 L739.44,715.18 L735.69,715.48 L731.99,715.83 L728.38,716.23 L724.84,716.68 L721.40,717.18 L718.06,717.73 L714.83,718.32 L711.73,718.96 L708.75,719.64 L705.91,720.36 L703.21,721.12 L700.67,721.91 L698.29,722.74 L696.07,723.61 L694.02,724.50 L692.15,725.42 L690.47,726.37 L688.97,727.33 L687.66,728.32 L686.55,729.32 L685.63,730.34 L684.92,731.37 L684.41,732.41 L684.10,733.45 L684.00,734.50"/><line x1="684.0" y1="734.5" x2="683.6" y2="805.5"/><line x1="833.6" y1="734.5" x2="830.6" y2="806.5"/><path d="M830.59,807.03 L830.47,805.74 L830.05,804.46 L829.34,803.19 L828.35,801.92 L827.08,800.67 L825.54,799.45 L823.72,798.24 L821.64,797.07 L819.30,795.94 L816.72,794.84 L813.91,793.79 L810.87,792.78 L807.62,791.83 L804.17,790.94 L800.53,790.10 L796.72,789.33 L792.76,788.62 L788.65,787.98 L784.42,787.41 L780.08,786.92 L775.65,786.50 L771.15,786.16 L766.59,785.89 L762.00,785.71 L757.38,785.60 L752.77,785.58 L748.17,785.63 L743.61,785.77 L739.10,785.99 L734.66,786.28 L730.31,786.66 L726.07,787.11 L721.94,787.63 L717.96,788.23 L714.13,788.89 L710.47,789.63 L707.00,790.43 L703.72,791.29 L700.65,792.21 L697.81,793.18 L695.20,794.20 L692.83,795.27 L690.72,796.39 L688.87,797.54 L687.29,798.72 L685.99,799.93 L684.96,801.17 L684.22,802.43 L683.77,803.70 L683.61,804.97 L683.73,806.26 L684.15,807.54 L684.86,808.81 L685.85,810.08 L687.12,811.33 L688.66,812.55 L690.48,813.76 L692.56,814.93 L694.90,816.06 L697.48,817.16 L700.29,818.21 L703.33,819.22 L706.58,820.17 L710.03,821.06 L713.67,821.90 L717.48,822.67 L721.44,823.38 L725.55,824.02 L729.78,824.59 L734.12,825.08 L738.55,825.50 L743.05,825.84 L747.61,826.11 L752.20,826.29 L756.82,826.40 L761.43,826.42 L766.03,826.37 L770.59,826.23 L775.10,826.01 L779.54,825.72 L783.89,825.34 L788.13,824.89 L792.26,824.37 L796.24,823.77 L800.07,823.11 L803.73,822.37 L807.20,821.57 L810.48,820.71 L813.55,819.79 L816.39,818.82 L819.00,817.80 L821.37,816.73 L823.48,815.61 L825.33,814.46 L826.91,813.28 L828.21,812.07 L829.24,810.83 L829.98,809.57 L830.43,808.30 L830.59,807.03 Z"/><path d="M817.47,795.14 L815.38,794.32 L813.17,793.53 L810.83,792.77 L808.36,792.04 L805.77,791.34 L803.07,790.68 L800.27,790.05 L797.37,789.45 L794.37,788.90 L791.29,788.38 L788.13,787.91 L784.89,787.47 L781.60,787.08 L778.25,786.73 L774.84,786.43 L771.40,786.17 L767.93,785.96 L764.43,785.79 L760.91,785.67 L757.38,785.60 L753.86,785.58 L750.34,785.60 L746.84,785.67 L743.36,785.78 L739.91,785.94 L736.50,786.15 L733.14,786.40 L729.83,786.70 L726.59,787.05 L723.42,787.43 L720.32,787.86 L717.31,788.33 L714.39,788.85 L711.57,789.40 L708.86,789.99 L706.25,790.61 L703.77,791.28 L701.40,791.97 L699.16,792.70 L697.06,793.46" stroke-width="1.8"/><line x1="668.2" y1="761.5" x2="701.5" y2="761.5"/><line x1="813.1" y1="760.5" x2="846.4" y2="760.5"/><path d="M855.6,693 L850.3,710.7"/><path d="M848,711.5 L832,711.5 L821,711 Q816.5,712 816,716 L815.8,723.5" stroke-width="1.8"/></g>
<circle cx="858.8" cy="674.1" r="16.3" fill="none" stroke="#000" stroke-width="1"/><g stroke="#000" stroke-width="1" shape-rendering="crispEdges"><line x1="858.8" y1="660.3" x2="858.8" y2="675"/><line x1="845.1" y1="675.5" x2="871.9" y2="675.5"/><line x1="847.7" y1="678.5" x2="868.7" y2="678.5"/><line x1="852.3" y1="682.5" x2="866" y2="682.5"/></g>
<line x1="648.5" y1="576.9" x2="693.8" y2="545" stroke="#000" stroke-width="1"/>
<circle cx="628.7" cy="569.8" r="20.6" fill="none" stroke="#000" stroke-width="1"/>
<path d="M631.50,556.20 L631.50,583.10 L628.20,583.10 L628.20,561.90 L621.60,566.00 L621.60,563.20 L627.90,556.20 Z" fill="#000" stroke="none"/>
<line x1="597.3" y1="782.7" x2="632.7" y2="734.2" stroke="#000" stroke-width="1"/>
<circle cx="569.8" cy="795" r="20.5" fill="none" stroke="#000" stroke-width="1"/>
<text x="560.50" y="807.70" font-size="38.00" >4</text>
<g fill="#fff" stroke="#000" stroke-width="1"><path d="M739.5,823 L739.5,836 L738.5,837 L738.5,856 L772,866 L771.5,845 L772.4,843 L772.4,822.5 Q771,820 769,820 L745,819.5 Q741,820 739.5,823 Z"/><path d="M742.5,819.3 L742.5,808 Q743.5,804 748.4,803.2 L762.5,803.2 L770.5,806.3 L769.6,820.2 L762,818.3 L748,818.3 Z"/><line x1="760.4" y1="803.2" x2="760.4" y2="818.3"/></g>
<path d="M810.19,922.55 L810.24,922.20 L810.28,921.85 L810.30,921.49 L810.31,921.13 L810.31,920.76 L810.29,920.39 L810.26,920.02 L810.22,919.64 L810.15,919.25 L810.07,918.87 L809.97,918.47 L809.85,918.08 L809.70,917.67 L809.52,917.26 L809.29,916.83 L808.97,916.37 L808.21,915.78 L809.29,915.78 L809.81,915.60 L810.22,915.37 L810.56,915.12 L810.86,914.86 L811.12,914.58 L811.35,914.29 L811.55,913.99 L811.73,913.68 L811.88,913.36 L812.00,913.03 L812.11,912.70 L812.19,912.36 L812.25,912.01 L812.28,911.66 L812.30,911.30 L812.29,910.93 L812.27,910.57 L812.22,910.19 L812.15,909.81 L812.06,909.43 L811.94,909.04 L811.81,908.65 L811.65,908.26 L811.47,907.86 L811.27,907.46 L811.05,907.06 L810.80,906.65 L810.52,906.24 L810.22,905.83 L809.89,905.42 L809.53,905.01 L809.12,904.59 L808.66,904.17 L808.10,903.74 L807.28,903.29 L807.76,902.99 L808.19,902.68 L808.48,902.35 L808.69,902.00 L808.84,901.65 L808.94,901.29 L809.00,900.92 L809.02,900.55 L809.01,900.17 L808.96,899.79 L808.89,899.40 L808.78,899.01 L808.64,898.62 L808.47,898.23 L808.27,897.84 L808.05,897.44 L807.79,897.05 L807.50,896.66 L807.19,896.26 L806.85,895.87 L806.47,895.48 L806.07,895.09 L805.63,894.71 L805.15,894.33 L804.64,893.95 L804.07,893.58 L803.44,893.22 L802.67,892.87 L801.95,892.53 L802.47,892.10 L802.68,891.69 L802.78,891.28 L802.82,890.87 L802.80,890.46 L802.73,890.05 L802.62,889.65 L802.47,889.24 L802.29,888.84 L802.07,888.44 L801.82,888.04 L801.54,887.65 L801.23,887.27 L800.88,886.88 L800.50,886.51 L800.10,886.14 L799.66,885.78 L799.19,885.42 L798.69,885.08 L798.15,884.74 L797.58,884.42 L796.97,884.11 L796.30,883.82 L795.56,883.55 L794.64,883.34 L794.41,882.95 L794.56,882.45 L794.55,881.99 L794.47,881.54 L794.33,881.10 L794.15,880.67 L793.93,880.25 L793.69,879.84 L793.41,879.43 L793.10,879.04 L792.76,878.65 L792.40,878.27 L792.01,877.90 L791.60,877.53 L791.17,877.18 L790.71,876.84 L790.22,876.51 L789.72,876.20 L789.19,875.89 L788.64,875.60 L788.06,875.32 L787.47,875.06 L786.84,874.82 L786.18,874.61 L785.48,874.42 L784.70,874.29 L783.53,874.39 L783.78,873.66 L783.65,873.14 L783.44,872.67 L783.18,872.22 L782.88,871.78 L782.56,871.36 L782.21,870.95 L781.83,870.56 L781.44,870.18 L781.03,869.80 L780.59,869.44 L780.14,869.10 L779.68,868.76 L779.19,868.44 L778.69,868.13 L778.18,867.83 L777.65,867.55 L777.11,867.28 L776.56,867.02 L775.99,866.78 L775.41,866.56 L774.82,866.35 L774.22,866.16 L773.60,866.00 L772.97,865.85 L772.32,865.74 L771.65,865.66 L770.94,865.65 L769.99,865.96 L769.93,865.11 L769.62,864.57 L769.25,864.10 L768.85,863.66 L768.43,863.24 L767.98,862.85 L767.52,862.48 L767.04,862.13 L766.54,861.79 L766.04,861.47 L765.52,861.17 L764.99,860.89 L764.45,860.62 L763.90,860.37 L763.35,860.14 L762.78,859.93 L762.21,859.73 L761.63,859.56 L761.05,859.41 L760.46,859.27 L759.87,859.16 L759.27,859.07 L758.67,859.01 L758.06,858.98 L757.46,858.98 L756.84,859.04 L756.21,859.19 L755.59,859.34 L755.16,858.67 L754.67,858.18 L754.17,857.75 L753.65,857.37 L753.12,857.01 L752.59,856.68 L752.04,856.37 L751.49,856.08 L750.94,855.81 L750.38,855.56 L749.81,855.32 L749.25,855.11 L748.68,854.91 L748.11,854.74 L747.54,854.58 L746.96,854.44 L746.39,854.32 L745.82,854.22 L745.26,854.14 L744.69,854.08 L744.13,854.05 L743.58,854.03 L743.03,854.04 L742.48,854.07 L741.94,854.14 L741.42,854.24 L740.90,854.38 L740.41,854.60 L739.95,855.03 L739.34,854.52 L738.72,854.02 L738.11,853.62 L737.51,853.27 L736.91,852.97 L736.31,852.70 L735.71,852.46 L735.12,852.25 L734.54,852.06 L733.95,851.90 L733.38,851.76 L732.81,851.64 L732.24,851.55 L731.69,851.49 L731.14,851.45 L730.60,851.43 L730.07,851.44 L729.56,851.47 L729.05,851.53 L728.56,851.62 L728.09,851.73 L727.63,851.88 L727.19,852.06 L726.78,852.28 L726.40,852.56 L726.09,852.96 L725.78,853.36 L724.99,852.79 L724.30,852.43 L723.64,852.15 L723.00,851.91 L722.38,851.71 L721.76,851.54 L721.16,851.39 L720.57,851.27 L719.99,851.18 L719.42,851.10 L718.86,851.05 L718.31,851.01 L717.78,851.00 L717.26,851.01 L716.75,851.04 L716.25,851.09 L715.77,851.16 L715.31,851.25 L714.86,851.36 L714.42,851.49 L714.01,851.64 L713.61,851.82 L713.24,852.02 L712.89,852.24 L712.56,852.49 L712.27,852.77 L712.01,853.10 L711.82,853.49 L711.76,854.03 L711.13,853.90 L710.27,853.50 L709.52,853.24 L708.83,853.06 L708.18,852.93 L707.56,852.84 L706.97,852.78 L706.41,852.76 L705.88,852.78 L705.38,852.83 L704.91,852.91 L704.46,853.02 L704.05,853.16 L703.67,853.33 L703.32,853.53 L703.00,853.76 L702.72,854.02 L702.48,854.32 L702.29,854.65 L702.14,855.03 L702.06,855.46 L702.08,855.97 L702.36,856.70 L701.73,856.62 L700.99,856.46 L700.33,856.38 L699.72,856.34 L699.15,856.33 L698.60,856.35 L698.07,856.38 L697.56,856.44 L697.06,856.51 L696.59,856.60 L696.13,856.71 L695.68,856.83 L695.26,856.96 L694.85,857.10 L694.45,857.26 L694.07,857.43 L693.71,857.62 L693.36,857.81 L693.03,858.02 L692.72,858.24 L692.43,858.47 L692.15,858.72 L691.89,858.97 L691.65,859.24 L691.43,859.52 L691.22,859.81 L691.04,860.11 L690.88,860.42 L690.74,860.75 L690.62,861.08 L690.53,861.43 L690.46,861.80 L690.43,862.18 L690.43,862.57 L690.49,863.00 L690.62,863.47 L690.94,864.03 L690.75,864.30 L690.15,864.35 L689.65,864.45 L689.20,864.59 L688.78,864.74 L688.39,864.91 L688.01,865.09 L687.65,865.29 L687.31,865.49 L686.98,865.70 L686.66,865.92 L686.35,866.15 L686.06,866.38 L685.78,866.62 L685.50,866.87 L685.24,867.12 L684.99,867.38 L684.75,867.64 L684.52,867.91 L684.30,868.19 L684.09,868.47 L683.88,868.76 L683.69,869.05 L683.51,869.34 L619.37,1026.74 L620.22,1027.10 L620.46,1027.56 L620.78,1028.04 L621.20,1028.56 L621.80,1029.15 L622.37,1029.71 L621.28,1029.63 L620.56,1029.70 L619.98,1029.83 L619.48,1029.99 L619.04,1030.18 L618.66,1030.40 L618.32,1030.63 L618.03,1030.89 L617.78,1031.16 L617.57,1031.44 L617.39,1031.74 L617.26,1032.05 L617.16,1032.38 L617.11,1032.72 L617.09,1033.07 L617.10,1033.43 L617.16,1033.80 L617.26,1034.19 L617.39,1034.58 L617.57,1034.98 L617.78,1035.39 L618.05,1035.81 L618.36,1036.25 L618.72,1036.69 L619.15,1037.14 L619.67,1037.61 L620.32,1038.11 L621.36,1038.69 L620.70,1038.87 L620.01,1039.06 L619.51,1039.29 L619.11,1039.55 L618.78,1039.83 L618.51,1040.12 L618.29,1040.43 L618.12,1040.75 L617.99,1041.08 L617.90,1041.42 L617.85,1041.77 L617.84,1042.13 L617.87,1042.50 L617.93,1042.87 L618.04,1043.24 L618.18,1043.63 L618.35,1044.01 L618.57,1044.41 L618.82,1044.80 L619.11,1045.20 L619.45,1045.60 L619.82,1046.00 L620.23,1046.41 L620.70,1046.82 L621.22,1047.22 L621.81,1047.63 L622.51,1048.05 L623.42,1048.47 L623.78,1048.84 L623.11,1049.15 L622.71,1049.49 L622.43,1049.83 L622.23,1050.19 L622.09,1050.56 L622.00,1050.92 L621.95,1051.30 L621.95,1051.68 L621.99,1052.06 L622.07,1052.44 L622.18,1052.83 L622.33,1053.21 L622.52,1053.60 L622.74,1053.98 L623.00,1054.37 L623.29,1054.75 L623.61,1055.14 L623.97,1055.52 L624.36,1055.89 L624.79,1056.26 L625.25,1056.63 L625.75,1056.99 L626.30,1057.34 L626.88,1057.69 L627.53,1058.02 L628.25,1058.35 L629.10,1058.65 L630.63,1058.86 L629.65,1059.37 L629.37,1059.81 L629.22,1060.23 L629.16,1060.66 L629.16,1061.07 L629.20,1061.49 L629.29,1061.90 L629.42,1062.31 L629.59,1062.71 L629.79,1063.11 L630.03,1063.50 L630.29,1063.89 L630.59,1064.27 L630.92,1064.65 L631.28,1065.02 L631.67,1065.38 L632.08,1065.74 L632.53,1066.08 L633.00,1066.42 L633.51,1066.74 L634.04,1067.05 L634.60,1067.35 L635.19,1067.64 L635.82,1067.91 L636.49,1068.16 L637.21,1068.39 L638.01,1068.57 L639.00,1068.68 L639.22,1069.07 L639.06,1069.63 L639.06,1070.12 L639.15,1070.59 L639.29,1071.05 L639.47,1071.49 L639.70,1071.92 L639.95,1072.33 L640.24,1072.74 L640.56,1073.14 L640.90,1073.52 L641.27,1073.89 L641.67,1074.25 L642.09,1074.60 L642.53,1074.94 L643.00,1075.26 L643.49,1075.57 L644.00,1075.86 L644.53,1076.14 L645.08,1076.41 L645.66,1076.65 L646.25,1076.88 L646.87,1077.09 L647.50,1077.27 L648.17,1077.43 L648.86,1077.56 L649.60,1077.64 L650.43,1077.63 L651.23,1077.64 L651.19,1078.35 L651.34,1078.91 L651.58,1079.42 L651.86,1079.89 L652.18,1080.33 L652.52,1080.76 L652.90,1081.17 L653.30,1081.56 L653.72,1081.93 L654.15,1082.29 L654.61,1082.63 L655.09,1082.95 L655.58,1083.25 L656.09,1083.54 L656.61,1083.81 L657.15,1084.05 L657.70,1084.28 L658.26,1084.49 L658.84,1084.68 L659.43,1084.85 L660.02,1085.00 L660.63,1085.12 L661.25,1085.21 L661.88,1085.27 L662.53,1085.30 L663.19,1085.27 L663.88,1085.17 L664.67,1084.86 L664.99,1085.45 L665.31,1086.07 L665.69,1086.60 L666.11,1087.07 L666.55,1087.50 L667.01,1087.91 L667.48,1088.28 L667.97,1088.64 L668.48,1088.97 L668.99,1089.28 L669.51,1089.57 L670.05,1089.83 L670.59,1090.08 L671.14,1090.30 L671.69,1090.50 L672.25,1090.68 L672.81,1090.83 L673.38,1090.97 L673.95,1091.07 L674.52,1091.16 L675.10,1091.21 L675.67,1091.24 L676.24,1091.24 L676.81,1091.20 L677.38,1091.13 L677.95,1091.01 L678.51,1090.81 L679.07,1090.48 L679.61,1090.49 L680.12,1091.19 L680.64,1091.72 L681.18,1092.17 L681.73,1092.57 L682.28,1092.93 L682.84,1093.26 L683.40,1093.56 L683.96,1093.84 L684.52,1094.09 L685.09,1094.31 L685.65,1094.51 L686.22,1094.68 L686.78,1094.83 L687.34,1094.95 L687.89,1095.05 L688.44,1095.12 L688.99,1095.17 L689.52,1095.19 L690.06,1095.18 L690.58,1095.15 L691.09,1095.09 L691.59,1095.00 L692.08,1094.87 L692.55,1094.70 L693.00,1094.49 L693.43,1094.21 L693.81,1093.83 L694.01,1092.90 L694.85,1093.96 L695.52,1094.48 L696.17,1094.89 L696.80,1095.24 L697.42,1095.55 L698.03,1095.81 L698.64,1096.04 L699.23,1096.25 L699.82,1096.42 L700.40,1096.57 L700.97,1096.69 L701.53,1096.78 L702.08,1096.85 L702.62,1096.89 L703.14,1096.90 L703.65,1096.89 L704.15,1096.85 L704.63,1096.78 L705.09,1096.69 L705.54,1096.57 L705.97,1096.42 L706.37,1096.24 L706.75,1096.03 L707.11,1095.78 L707.44,1095.49 L707.72,1095.15 L707.94,1094.72 L708.03,1094.09 L708.60,1094.22 L709.43,1094.73 L710.17,1095.09 L710.86,1095.37 L711.53,1095.60 L712.17,1095.79 L712.79,1095.94 L713.40,1096.06 L713.98,1096.15 L714.55,1096.22 L715.09,1096.25 L715.62,1096.26 L716.13,1096.24 L716.62,1096.19 L717.09,1096.12 L717.53,1096.03 L717.96,1095.90 L718.36,1095.76 L718.73,1095.58 L719.08,1095.38 L719.41,1095.15 L719.70,1094.90 L719.97,1094.61 L720.19,1094.30 L720.38,1093.94 L720.52,1093.54 L720.58,1093.08 L720.52,1092.49 L720.47,1091.92 L721.53,1092.47 L722.35,1092.77 L723.09,1092.97 L723.77,1093.11 L724.41,1093.21 L725.02,1093.27 L725.60,1093.30 L726.15,1093.30 L726.68,1093.28 L727.18,1093.22 L727.65,1093.15 L728.09,1093.04 L728.51,1092.91 L728.90,1092.76 L729.26,1092.59 L729.59,1092.39 L729.89,1092.16 L730.16,1091.92 L730.40,1091.65 L730.61,1091.35 L730.78,1091.04 L730.91,1090.69 L731.01,1090.32 L731.05,1089.92 L731.04,1089.48 L730.96,1089.00 L730.76,1088.43 L730.23,1087.65 L731.10,1087.85 L732.00,1088.07 L732.75,1088.18 L733.42,1088.23 L734.03,1088.23 L734.60,1088.20 L735.13,1088.14 L735.62,1088.05 L736.08,1087.93 L736.51,1087.80 L736.90,1087.63 L737.25,1087.45 L737.58,1087.24 L737.87,1087.02 L738.13,1086.77 L738.35,1086.50 L738.54,1086.22 L738.69,1085.91 L738.81,1085.58 L738.89,1085.24 L738.94,1084.87 L738.94,1084.49 L738.89,1084.08 L738.80,1083.66 L738.65,1083.20 L738.43,1082.71 L738.10,1082.17 L737.55,1081.53 L737.53,1081.16 L738.54,1081.31 L739.28,1081.32 L739.91,1081.26 L740.47,1081.17 L740.97,1081.04 L741.42,1080.89 L741.83,1080.71 L742.20,1080.51 L742.53,1080.29 L742.82,1080.05 L743.07,1079.80 L743.29,1079.52 L743.47,1079.23 L743.61,1078.93 L742.96,1078.66 Z" fill="#fff" stroke="none"/>
<clipPath id="lat"><path d="M810.19,922.55 L810.24,922.20 L810.28,921.85 L810.30,921.49 L810.31,921.13 L810.31,920.76 L810.29,920.39 L810.26,920.02 L810.22,919.64 L810.15,919.25 L810.07,918.87 L809.97,918.47 L809.85,918.08 L809.70,917.67 L809.52,917.26 L809.29,916.83 L808.97,916.37 L808.21,915.78 L809.29,915.78 L809.81,915.60 L810.22,915.37 L810.56,915.12 L810.86,914.86 L811.12,914.58 L811.35,914.29 L811.55,913.99 L811.73,913.68 L811.88,913.36 L812.00,913.03 L812.11,912.70 L812.19,912.36 L812.25,912.01 L812.28,911.66 L812.30,911.30 L812.29,910.93 L812.27,910.57 L812.22,910.19 L812.15,909.81 L812.06,909.43 L811.94,909.04 L811.81,908.65 L811.65,908.26 L811.47,907.86 L811.27,907.46 L811.05,907.06 L810.80,906.65 L810.52,906.24 L810.22,905.83 L809.89,905.42 L809.53,905.01 L809.12,904.59 L808.66,904.17 L808.10,903.74 L807.28,903.29 L807.76,902.99 L808.19,902.68 L808.48,902.35 L808.69,902.00 L808.84,901.65 L808.94,901.29 L809.00,900.92 L809.02,900.55 L809.01,900.17 L808.96,899.79 L808.89,899.40 L808.78,899.01 L808.64,898.62 L808.47,898.23 L808.27,897.84 L808.05,897.44 L807.79,897.05 L807.50,896.66 L807.19,896.26 L806.85,895.87 L806.47,895.48 L806.07,895.09 L805.63,894.71 L805.15,894.33 L804.64,893.95 L804.07,893.58 L803.44,893.22 L802.67,892.87 L801.95,892.53 L802.47,892.10 L802.68,891.69 L802.78,891.28 L802.82,890.87 L802.80,890.46 L802.73,890.05 L802.62,889.65 L802.47,889.24 L802.29,888.84 L802.07,888.44 L801.82,888.04 L801.54,887.65 L801.23,887.27 L800.88,886.88 L800.50,886.51 L800.10,886.14 L799.66,885.78 L799.19,885.42 L798.69,885.08 L798.15,884.74 L797.58,884.42 L796.97,884.11 L796.30,883.82 L795.56,883.55 L794.64,883.34 L794.41,882.95 L794.56,882.45 L794.55,881.99 L794.47,881.54 L794.33,881.10 L794.15,880.67 L793.93,880.25 L793.69,879.84 L793.41,879.43 L793.10,879.04 L792.76,878.65 L792.40,878.27 L792.01,877.90 L791.60,877.53 L791.17,877.18 L790.71,876.84 L790.22,876.51 L789.72,876.20 L789.19,875.89 L788.64,875.60 L788.06,875.32 L787.47,875.06 L786.84,874.82 L786.18,874.61 L785.48,874.42 L784.70,874.29 L783.53,874.39 L783.78,873.66 L783.65,873.14 L783.44,872.67 L783.18,872.22 L782.88,871.78 L782.56,871.36 L782.21,870.95 L781.83,870.56 L781.44,870.18 L781.03,869.80 L780.59,869.44 L780.14,869.10 L779.68,868.76 L779.19,868.44 L778.69,868.13 L778.18,867.83 L777.65,867.55 L777.11,867.28 L776.56,867.02 L775.99,866.78 L775.41,866.56 L774.82,866.35 L774.22,866.16 L773.60,866.00 L772.97,865.85 L772.32,865.74 L771.65,865.66 L770.94,865.65 L769.99,865.96 L769.93,865.11 L769.62,864.57 L769.25,864.10 L768.85,863.66 L768.43,863.24 L767.98,862.85 L767.52,862.48 L767.04,862.13 L766.54,861.79 L766.04,861.47 L765.52,861.17 L764.99,860.89 L764.45,860.62 L763.90,860.37 L763.35,860.14 L762.78,859.93 L762.21,859.73 L761.63,859.56 L761.05,859.41 L760.46,859.27 L759.87,859.16 L759.27,859.07 L758.67,859.01 L758.06,858.98 L757.46,858.98 L756.84,859.04 L756.21,859.19 L755.59,859.34 L755.16,858.67 L754.67,858.18 L754.17,857.75 L753.65,857.37 L753.12,857.01 L752.59,856.68 L752.04,856.37 L751.49,856.08 L750.94,855.81 L750.38,855.56 L749.81,855.32 L749.25,855.11 L748.68,854.91 L748.11,854.74 L747.54,854.58 L746.96,854.44 L746.39,854.32 L745.82,854.22 L745.26,854.14 L744.69,854.08 L744.13,854.05 L743.58,854.03 L743.03,854.04 L742.48,854.07 L741.94,854.14 L741.42,854.24 L740.90,854.38 L740.41,854.60 L739.95,855.03 L739.34,854.52 L738.72,854.02 L738.11,853.62 L737.51,853.27 L736.91,852.97 L736.31,852.70 L735.71,852.46 L735.12,852.25 L734.54,852.06 L733.95,851.90 L733.38,851.76 L732.81,851.64 L732.24,851.55 L731.69,851.49 L731.14,851.45 L730.60,851.43 L730.07,851.44 L729.56,851.47 L729.05,851.53 L728.56,851.62 L728.09,851.73 L727.63,851.88 L727.19,852.06 L726.78,852.28 L726.40,852.56 L726.09,852.96 L725.78,853.36 L724.99,852.79 L724.30,852.43 L723.64,852.15 L723.00,851.91 L722.38,851.71 L721.76,851.54 L721.16,851.39 L720.57,851.27 L719.99,851.18 L719.42,851.10 L718.86,851.05 L718.31,851.01 L717.78,851.00 L717.26,851.01 L716.75,851.04 L716.25,851.09 L715.77,851.16 L715.31,851.25 L714.86,851.36 L714.42,851.49 L714.01,851.64 L713.61,851.82 L713.24,852.02 L712.89,852.24 L712.56,852.49 L712.27,852.77 L712.01,853.10 L711.82,853.49 L711.76,854.03 L711.13,853.90 L710.27,853.50 L709.52,853.24 L708.83,853.06 L708.18,852.93 L707.56,852.84 L706.97,852.78 L706.41,852.76 L705.88,852.78 L705.38,852.83 L704.91,852.91 L704.46,853.02 L704.05,853.16 L703.67,853.33 L703.32,853.53 L703.00,853.76 L702.72,854.02 L702.48,854.32 L702.29,854.65 L702.14,855.03 L702.06,855.46 L702.08,855.97 L702.36,856.70 L701.73,856.62 L700.99,856.46 L700.33,856.38 L699.72,856.34 L699.15,856.33 L698.60,856.35 L698.07,856.38 L697.56,856.44 L697.06,856.51 L696.59,856.60 L696.13,856.71 L695.68,856.83 L695.26,856.96 L694.85,857.10 L694.45,857.26 L694.07,857.43 L693.71,857.62 L693.36,857.81 L693.03,858.02 L692.72,858.24 L692.43,858.47 L692.15,858.72 L691.89,858.97 L691.65,859.24 L691.43,859.52 L691.22,859.81 L691.04,860.11 L690.88,860.42 L690.74,860.75 L690.62,861.08 L690.53,861.43 L690.46,861.80 L690.43,862.18 L690.43,862.57 L690.49,863.00 L690.62,863.47 L690.94,864.03 L690.75,864.30 L690.15,864.35 L689.65,864.45 L689.20,864.59 L688.78,864.74 L688.39,864.91 L688.01,865.09 L687.65,865.29 L687.31,865.49 L686.98,865.70 L686.66,865.92 L686.35,866.15 L686.06,866.38 L685.78,866.62 L685.50,866.87 L685.24,867.12 L684.99,867.38 L684.75,867.64 L684.52,867.91 L684.30,868.19 L684.09,868.47 L683.88,868.76 L683.69,869.05 L683.51,869.34 L620.22,1027.10 L620.03,1026.66 L619.89,1026.24 L619.80,1025.84 L619.75,1025.45 L619.75,1025.08 L619.78,1024.73 L619.84,1024.39 L619.95,1024.06 L620.09,1023.76 L620.27,1023.47 L620.48,1023.20 L620.74,1022.94 L621.02,1022.71 L621.34,1022.49 L621.70,1022.30 L622.10,1022.12 L622.53,1021.97 L623.01,1021.84 L623.53,1021.74 L624.11,1021.68 L624.75,1021.65 L625.49,1021.69 L626.43,1021.84 L626.96,1021.78 L626.51,1021.15 L626.28,1020.64 L626.14,1020.17 L626.07,1019.74 L626.04,1019.34 L626.05,1018.95 L626.10,1018.58 L626.17,1018.23 L626.27,1017.89 L626.40,1017.56 L626.55,1017.25 L626.73,1016.95 L626.92,1016.66 L627.14,1016.39 L627.39,1016.13 L627.65,1015.89 L627.93,1015.66 L628.24,1015.44 L628.56,1015.23 L628.90,1015.04 L629.27,1014.87 L629.65,1014.71 L630.05,1014.56 L630.47,1014.43 L630.91,1014.32 L631.37,1014.22 L631.85,1014.14 L632.34,1014.08 L632.86,1014.03 L633.40,1014.01 L633.96,1014.01 L634.54,1014.03 L635.16,1014.08 L635.81,1014.17 L636.52,1014.32 L637.34,1014.57 L638.02,1014.70 L637.57,1013.83 L637.44,1013.24 L637.44,1012.75 L637.51,1012.32 L637.65,1011.94 L637.84,1011.61 L638.08,1011.32 L638.36,1011.06 L638.69,1010.85 L639.05,1010.67 L639.45,1010.53 L639.89,1010.42 L640.36,1010.35 L640.87,1010.32 L641.41,1010.33 L641.99,1010.38 L642.60,1010.47 L643.25,1010.61 L643.94,1010.80 L644.68,1011.05 L645.49,1011.39 L646.43,1011.91 L647.08,1012.09 L647.04,1011.44 L647.16,1010.98 L647.35,1010.59 L647.59,1010.26 L647.87,1009.96 L648.18,1009.70 L648.52,1009.47 L648.88,1009.27 L649.27,1009.09 L649.68,1008.94 L650.11,1008.82 L650.55,1008.71 L651.02,1008.64 L651.50,1008.59 L652.00,1008.56 L652.52,1008.56 L653.05,1008.58 L653.59,1008.62 L654.15,1008.69 L654.72,1008.79 L655.31,1008.91 L655.91,1009.06 L656.52,1009.24 L657.14,1009.45 L657.78,1009.70 L658.44,1009.99 L659.12,1010.34 L659.84,1010.78 L660.67,1011.48 L660.91,1010.98 L661.17,1010.49 L661.50,1010.13 L661.87,1009.84 L662.27,1009.61 L662.70,1009.42 L663.15,1009.27 L663.61,1009.15 L664.09,1009.06 L664.59,1009.01 L665.10,1008.99 L665.63,1008.99 L666.16,1009.03 L666.71,1009.09 L667.26,1009.18 L667.82,1009.31 L668.39,1009.46 L668.97,1009.64 L669.55,1009.85 L670.14,1010.09 L670.73,1010.37 L671.33,1010.68 L671.93,1011.03 L672.53,1011.43 L673.14,1011.90 L673.76,1012.49 L674.37,1013.09 L674.79,1012.54 L675.26,1012.24 L675.75,1012.03 L676.25,1011.87 L676.77,1011.76 L677.30,1011.69 L677.84,1011.64 L678.38,1011.63 L678.93,1011.64 L679.48,1011.67 L680.03,1011.74 L680.59,1011.82 L681.15,1011.93 L681.71,1012.06 L682.27,1012.22 L682.83,1012.39 L683.39,1012.59 L683.94,1012.81 L684.49,1013.06 L685.04,1013.32 L685.58,1013.61 L686.12,1013.93 L686.65,1014.26 L687.17,1014.63 L687.67,1015.02 L688.17,1015.45 L688.65,1015.93 L689.10,1016.49 L689.49,1017.26 L690.11,1017.02 L690.75,1016.79 L691.36,1016.66 L691.97,1016.60 L692.58,1016.59 L693.18,1016.61 L693.77,1016.66 L694.37,1016.74 L694.95,1016.85 L695.53,1016.98 L696.10,1017.14 L696.67,1017.32 L697.22,1017.52 L697.77,1017.74 L698.31,1017.99 L698.83,1018.26 L699.35,1018.54 L699.85,1018.85 L700.33,1019.18 L700.81,1019.53 L701.26,1019.90 L701.69,1020.30 L702.11,1020.71 L702.50,1021.15 L702.86,1021.63 L703.17,1022.15 L703.42,1022.74 L703.36,1023.72 L704.39,1023.27 L705.14,1023.21 L705.84,1023.23 L706.51,1023.30 L707.16,1023.41 L707.79,1023.54 L708.40,1023.70 L709.00,1023.88 L709.59,1024.08 L710.16,1024.30 L710.71,1024.53 L711.25,1024.79 L711.78,1025.06 L712.28,1025.35 L712.77,1025.66 L713.24,1025.98 L713.69,1026.31 L714.12,1026.66 L714.54,1027.02 L714.92,1027.40 L715.29,1027.79 L715.63,1028.20 L715.94,1028.62 L716.22,1029.05 L716.47,1029.51 L716.67,1029.98 L716.81,1030.48 L716.85,1031.04 L716.42,1031.86 L717.75,1031.64 L718.59,1031.72 L719.35,1031.86 L720.05,1032.04 L720.71,1032.25 L721.34,1032.48 L721.94,1032.73 L722.51,1033.00 L723.05,1033.29 L723.57,1033.59 L724.06,1033.91 L724.52,1034.24 L724.95,1034.58 L725.35,1034.94 L725.72,1035.30 L726.07,1035.68 L726.38,1036.07 L726.66,1036.47 L726.90,1036.88 L727.10,1037.29 L727.27,1037.72 L727.39,1038.15 L727.46,1038.60 L727.47,1039.06 L727.38,1039.54 L727.11,1040.06 L727.29,1040.45 L728.34,1040.61 L729.17,1040.85 L729.90,1041.11 L730.57,1041.39 L731.18,1041.70 L731.76,1042.01 L732.29,1042.34 L732.78,1042.68 L733.24,1043.03 L733.66,1043.39 L734.05,1043.76 L734.39,1044.13 L734.70,1044.51 L734.97,1044.90 L735.20,1045.29 L735.39,1045.68 L735.54,1046.08 L735.64,1046.48 L735.70,1046.88 L735.71,1047.29 L735.66,1047.69 L735.55,1048.10 L735.35,1048.51 L735.02,1048.92 L734.31,1049.34 L735.13,1049.67 L736.02,1050.00 L736.74,1050.35 L737.38,1050.70 L737.95,1051.07 L738.48,1051.44 L738.96,1051.81 L739.40,1052.19 L739.81,1052.57 L740.18,1052.96 L740.51,1053.34 L740.81,1053.73 L741.08,1054.12 L741.30,1054.50 L741.50,1054.89 L741.66,1055.27 L741.78,1055.66 L741.87,1056.04 L741.92,1056.41 L741.93,1056.78 L741.90,1057.15 L741.83,1057.51 L741.71,1057.87 L741.55,1058.22 L741.32,1058.55 L741.03,1058.88 L740.64,1059.19 L740.07,1059.47 L739.44,1059.74 L740.43,1060.21 L741.09,1060.64 L741.63,1061.06 L742.10,1061.48 L742.53,1061.89 L742.91,1062.30 L743.26,1062.71 L743.57,1063.12 L743.86,1063.52 L744.11,1063.92 L744.34,1064.32 L744.54,1064.71 L744.72,1065.10 L744.87,1065.49 L745.00,1065.87 L745.10,1066.25 L745.17,1066.62 L745.22,1066.99 L745.25,1067.35 L745.25,1067.71 L745.22,1068.06 L745.17,1068.40 L745.09,1068.74 L744.99,1069.07 L744.86,1069.39 L744.70,1069.70 L744.51,1070.00 L744.30,1070.29 L744.05,1070.57 L743.77,1070.84 L743.45,1071.09 L743.09,1071.33 L742.67,1071.54 L742.18,1071.73 L741.55,1071.87 L740.23,1071.78 L740.52,1072.21 L740.63,1072.58 L740.69,1072.93 L740.74,1073.28 L740.77,1073.63 L740.78,1073.97 L740.79,1074.31 L740.78,1074.65 L740.77,1074.98 L740.75,1075.31 L740.72,1075.64 L740.68,1075.97 L740.64,1076.29 L740.59,1076.62 L740.53,1076.94 L740.47,1077.26 L740.40,1077.58 Z"/></clipPath>
<g clip-path="url(#lat)" stroke="#000" stroke-width="1" fill="none"><line x1="702.00" y1="830.00" x2="584.40" y2="1110.00"/><line x1="705.00" y1="830.00" x2="587.40" y2="1110.00"/><line x1="712.00" y1="830.00" x2="594.40" y2="1110.00"/><line x1="719.30" y1="830.00" x2="601.70" y2="1110.00"/><line x1="721.60" y1="830.00" x2="604.00" y2="1110.00"/><line x1="732.70" y1="830.00" x2="615.10" y2="1110.00"/><line x1="736.60" y1="830.00" x2="619.00" y2="1110.00"/><line x1="747.40" y1="830.00" x2="629.80" y2="1110.00"/><line x1="752.00" y1="830.00" x2="634.40" y2="1110.00"/><line x1="765.00" y1="830.00" x2="647.40" y2="1110.00"/><line x1="770.70" y1="830.00" x2="653.10" y2="1110.00"/><line x1="782.70" y1="830.00" x2="665.10" y2="1110.00"/><line x1="788.10" y1="830.00" x2="670.50" y2="1110.00"/><line x1="800.40" y1="830.00" x2="682.80" y2="1110.00"/><line x1="805.80" y1="830.00" x2="688.20" y2="1110.00"/><line x1="815.80" y1="830.00" x2="698.20" y2="1110.00"/><line x1="819.70" y1="830.00" x2="702.10" y2="1110.00"/><line x1="828.90" y1="830.00" x2="711.30" y2="1110.00"/><line x1="830.40" y1="830.00" x2="712.80" y2="1110.00"/><line x1="839.70" y1="830.00" x2="722.10" y2="1110.00"/><line x1="845.80" y1="830.00" x2="728.20" y2="1110.00"/><line x1="847.40" y1="830.00" x2="729.80" y2="1110.00"/></g>
<g fill="none" stroke="#000" stroke-width="1"><path d="M810.19,922.55 L810.24,922.20 L810.28,921.85 L810.30,921.49 L810.31,921.13 L810.31,920.76 L810.29,920.39 L810.26,920.02 L810.22,919.64 L810.15,919.25 L810.07,918.87 L809.97,918.47 L809.85,918.08 L809.70,917.67 L809.52,917.26 L809.29,916.83 L808.97,916.37 L808.21,915.78 L809.29,915.78 L809.81,915.60 L810.22,915.37 L810.56,915.12 L810.86,914.86 L811.12,914.58 L811.35,914.29 L811.55,913.99 L811.73,913.68 L811.88,913.36 L812.00,913.03 L812.11,912.70 L812.19,912.36 L812.25,912.01 L812.28,911.66 L812.30,911.30 L812.29,910.93 L812.27,910.57 L812.22,910.19 L812.15,909.81 L812.06,909.43 L811.94,909.04 L811.81,908.65 L811.65,908.26 L811.47,907.86 L811.27,907.46 L811.05,907.06 L810.80,906.65 L810.52,906.24 L810.22,905.83 L809.89,905.42 L809.53,905.01 L809.12,904.59 L808.66,904.17 L808.10,903.74 L807.28,903.29 L807.76,902.99 L808.19,902.68 L808.48,902.35 L808.69,902.00 L808.84,901.65 L808.94,901.29 L809.00,900.92 L809.02,900.55 L809.01,900.17 L808.96,899.79 L808.89,899.40 L808.78,899.01 L808.64,898.62 L808.47,898.23 L808.27,897.84 L808.05,897.44 L807.79,897.05 L807.50,896.66 L807.19,896.26 L806.85,895.87 L806.47,895.48 L806.07,895.09 L805.63,894.71 L805.15,894.33 L804.64,893.95 L804.07,893.58 L803.44,893.22 L802.67,892.87 L801.95,892.53 L802.47,892.10 L802.68,891.69 L802.78,891.28 L802.82,890.87 L802.80,890.46 L802.73,890.05 L802.62,889.65 L802.47,889.24 L802.29,888.84 L802.07,888.44 L801.82,888.04 L801.54,887.65 L801.23,887.27 L800.88,886.88 L800.50,886.51 L800.10,886.14 L799.66,885.78 L799.19,885.42 L798.69,885.08 L798.15,884.74 L797.58,884.42 L796.97,884.11 L796.30,883.82 L795.56,883.55 L794.64,883.34 L794.41,882.95 L794.56,882.45 L794.55,881.99 L794.47,881.54 L794.33,881.10 L794.15,880.67 L793.93,880.25 L793.69,879.84 L793.41,879.43 L793.10,879.04 L792.76,878.65 L792.40,878.27 L792.01,877.90 L791.60,877.53 L791.17,877.18 L790.71,876.84 L790.22,876.51 L789.72,876.20 L789.19,875.89 L788.64,875.60 L788.06,875.32 L787.47,875.06 L786.84,874.82 L786.18,874.61 L785.48,874.42 L784.70,874.29 L783.53,874.39 L783.78,873.66 L783.65,873.14 L783.44,872.67 L783.18,872.22 L782.88,871.78 L782.56,871.36 L782.21,870.95 L781.83,870.56 L781.44,870.18 L781.03,869.80 L780.59,869.44 L780.14,869.10 L779.68,868.76 L779.19,868.44 L778.69,868.13 L778.18,867.83 L777.65,867.55 L777.11,867.28 L776.56,867.02 L775.99,866.78 L775.41,866.56 L774.82,866.35 L774.22,866.16 L773.60,866.00 L772.97,865.85 L772.32,865.74 L771.65,865.66 L770.94,865.65 L769.99,865.96 L769.93,865.11 L769.62,864.57 L769.25,864.10 L768.85,863.66 L768.43,863.24 L767.98,862.85 L767.52,862.48 L767.04,862.13 L766.54,861.79 L766.04,861.47 L765.52,861.17 L764.99,860.89 L764.45,860.62 L763.90,860.37 L763.35,860.14 L762.78,859.93 L762.21,859.73 L761.63,859.56 L761.05,859.41 L760.46,859.27 L759.87,859.16 L759.27,859.07 L758.67,859.01 L758.06,858.98 L757.46,858.98 L756.84,859.04 L756.21,859.19 L755.59,859.34 L755.16,858.67 L754.67,858.18 L754.17,857.75 L753.65,857.37 L753.12,857.01 L752.59,856.68 L752.04,856.37 L751.49,856.08 L750.94,855.81 L750.38,855.56 L749.81,855.32 L749.25,855.11 L748.68,854.91 L748.11,854.74 L747.54,854.58 L746.96,854.44 L746.39,854.32 L745.82,854.22 L745.26,854.14 L744.69,854.08 L744.13,854.05 L743.58,854.03 L743.03,854.04 L742.48,854.07 L741.94,854.14 L741.42,854.24 L740.90,854.38 L740.41,854.60 L739.95,855.03 L739.34,854.52 L738.72,854.02 L738.11,853.62 L737.51,853.27 L736.91,852.97 L736.31,852.70 L735.71,852.46 L735.12,852.25 L734.54,852.06 L733.95,851.90 L733.38,851.76 L732.81,851.64 L732.24,851.55 L731.69,851.49 L731.14,851.45 L730.60,851.43 L730.07,851.44 L729.56,851.47 L729.05,851.53 L728.56,851.62 L728.09,851.73 L727.63,851.88 L727.19,852.06 L726.78,852.28 L726.40,852.56 L726.09,852.96 L725.78,853.36 L724.99,852.79 L724.30,852.43 L723.64,852.15 L723.00,851.91 L722.38,851.71 L721.76,851.54 L721.16,851.39 L720.57,851.27 L719.99,851.18 L719.42,851.10 L718.86,851.05 L718.31,851.01 L717.78,851.00 L717.26,851.01 L716.75,851.04 L716.25,851.09 L715.77,851.16 L715.31,851.25 L714.86,851.36 L714.42,851.49 L714.01,851.64 L713.61,851.82 L713.24,852.02 L712.89,852.24 L712.56,852.49 L712.27,852.77 L712.01,853.10 L711.82,853.49 L711.76,854.03 L711.13,853.90 L710.27,853.50 L709.52,853.24 L708.83,853.06 L708.18,852.93 L707.56,852.84 L706.97,852.78 L706.41,852.76 L705.88,852.78 L705.38,852.83 L704.91,852.91 L704.46,853.02 L704.05,853.16 L703.67,853.33 L703.32,853.53 L703.00,853.76 L702.72,854.02 L702.48,854.32 L702.29,854.65 L702.14,855.03 L702.06,855.46 L702.08,855.97 L702.36,856.70 L701.73,856.62 L700.99,856.46 L700.33,856.38 L699.72,856.34 L699.15,856.33 L698.60,856.35 L698.07,856.38 L697.56,856.44 L697.06,856.51 L696.59,856.60 L696.13,856.71 L695.68,856.83 L695.26,856.96 L694.85,857.10 L694.45,857.26 L694.07,857.43 L693.71,857.62 L693.36,857.81 L693.03,858.02 L692.72,858.24 L692.43,858.47 L692.15,858.72 L691.89,858.97 L691.65,859.24 L691.43,859.52 L691.22,859.81 L691.04,860.11 L690.88,860.42 L690.74,860.75 L690.62,861.08 L690.53,861.43 L690.46,861.80 L690.43,862.18 L690.43,862.57 L690.49,863.00 L690.62,863.47 L690.94,864.03 L690.75,864.30 L690.15,864.35 L689.65,864.45 L689.20,864.59 L688.78,864.74 L688.39,864.91 L688.01,865.09 L687.65,865.29 L687.31,865.49 L686.98,865.70 L686.66,865.92 L686.35,866.15 L686.06,866.38 L685.78,866.62 L685.50,866.87 L685.24,867.12 L684.99,867.38 L684.75,867.64 L684.52,867.91 L684.30,868.19 L684.09,868.47 L683.88,868.76 L683.69,869.05 L683.51,869.34"/><path d="M740.40,1077.58 L740.47,1077.26 L740.53,1076.94 L740.59,1076.62 L740.64,1076.29 L740.68,1075.97 L740.72,1075.64 L740.75,1075.31 L740.77,1074.98 L740.78,1074.65 L740.79,1074.31 L740.78,1073.97 L740.77,1073.63 L740.74,1073.28 L740.69,1072.93 L740.63,1072.58 L740.52,1072.21 L740.23,1071.78 L741.55,1071.87 L742.18,1071.73 L742.67,1071.54 L743.09,1071.33 L743.45,1071.09 L743.77,1070.84 L744.05,1070.57 L744.30,1070.29 L744.51,1070.00 L744.70,1069.70 L744.86,1069.39 L744.99,1069.07 L745.09,1068.74 L745.17,1068.40 L745.22,1068.06 L745.25,1067.71 L745.25,1067.35 L745.22,1066.99 L745.17,1066.62 L745.10,1066.25 L745.00,1065.87 L744.87,1065.49 L744.72,1065.10 L744.54,1064.71 L744.34,1064.32 L744.11,1063.92 L743.86,1063.52 L743.57,1063.12 L743.26,1062.71 L742.91,1062.30 L742.53,1061.89 L742.10,1061.48 L741.63,1061.06 L741.09,1060.64 L740.43,1060.21 L739.44,1059.74 L740.07,1059.47 L740.64,1059.19 L741.03,1058.88 L741.32,1058.55 L741.55,1058.22 L741.71,1057.87 L741.83,1057.51 L741.90,1057.15 L741.93,1056.78 L741.92,1056.41 L741.87,1056.04 L741.78,1055.66 L741.66,1055.27 L741.50,1054.89 L741.30,1054.50 L741.08,1054.12 L740.81,1053.73 L740.51,1053.34 L740.18,1052.96 L739.81,1052.57 L739.40,1052.19 L738.96,1051.81 L738.48,1051.44 L737.95,1051.07 L737.38,1050.70 L736.74,1050.35 L736.02,1050.00 L735.13,1049.67 L734.31,1049.34 L735.02,1048.92 L735.35,1048.51 L735.55,1048.10 L735.66,1047.69 L735.71,1047.29 L735.70,1046.88 L735.64,1046.48 L735.54,1046.08 L735.39,1045.68 L735.20,1045.29 L734.97,1044.90 L734.70,1044.51 L734.39,1044.13 L734.05,1043.76 L733.66,1043.39 L733.24,1043.03 L732.78,1042.68 L732.29,1042.34 L731.76,1042.01 L731.18,1041.70 L730.57,1041.39 L729.90,1041.11 L729.17,1040.85 L728.34,1040.61 L727.29,1040.45 L727.11,1040.06 L727.38,1039.54 L727.47,1039.06 L727.46,1038.60 L727.39,1038.15 L727.27,1037.72 L727.10,1037.29 L726.90,1036.88 L726.66,1036.47 L726.38,1036.07 L726.07,1035.68 L725.72,1035.30 L725.35,1034.94 L724.95,1034.58 L724.52,1034.24 L724.06,1033.91 L723.57,1033.59 L723.05,1033.29 L722.51,1033.00 L721.94,1032.73 L721.34,1032.48 L720.71,1032.25 L720.05,1032.04 L719.35,1031.86 L718.59,1031.72 L717.75,1031.64 L716.42,1031.86 L716.85,1031.04 L716.81,1030.48 L716.67,1029.98 L716.47,1029.51 L716.22,1029.05 L715.94,1028.62 L715.63,1028.20 L715.29,1027.79 L714.92,1027.40 L714.54,1027.02 L714.12,1026.66 L713.69,1026.31 L713.24,1025.98 L712.77,1025.66 L712.28,1025.35 L711.78,1025.06 L711.25,1024.79 L710.71,1024.53 L710.16,1024.30 L709.59,1024.08 L709.00,1023.88 L708.40,1023.70 L707.79,1023.54 L707.16,1023.41 L706.51,1023.30 L705.84,1023.23 L705.14,1023.21 L704.39,1023.27 L703.36,1023.72 L703.42,1022.74 L703.17,1022.15 L702.86,1021.63 L702.50,1021.15 L702.11,1020.71 L701.69,1020.30 L701.26,1019.90 L700.81,1019.53 L700.33,1019.18 L699.85,1018.85 L699.35,1018.54 L698.83,1018.26 L698.31,1017.99 L697.77,1017.74 L697.22,1017.52 L696.67,1017.32 L696.10,1017.14 L695.53,1016.98 L694.95,1016.85 L694.37,1016.74 L693.77,1016.66 L693.18,1016.61 L692.58,1016.59 L691.97,1016.60 L691.36,1016.66 L690.75,1016.79 L690.11,1017.02 L689.49,1017.26 L689.10,1016.49 L688.65,1015.93 L688.17,1015.45 L687.67,1015.02 L687.17,1014.63 L686.65,1014.26 L686.12,1013.93 L685.58,1013.61 L685.04,1013.32 L684.49,1013.06 L683.94,1012.81 L683.39,1012.59 L682.83,1012.39 L682.27,1012.22 L681.71,1012.06 L681.15,1011.93 L680.59,1011.82 L680.03,1011.74 L679.48,1011.67 L678.93,1011.64 L678.38,1011.63 L677.84,1011.64 L677.30,1011.69 L676.77,1011.76 L676.25,1011.87 L675.75,1012.03 L675.26,1012.24 L674.79,1012.54 L674.37,1013.09 L673.76,1012.49 L673.14,1011.90 L672.53,1011.43 L671.93,1011.03 L671.33,1010.68 L670.73,1010.37 L670.14,1010.09 L669.55,1009.85 L668.97,1009.64 L668.39,1009.46 L667.82,1009.31 L667.26,1009.18 L666.71,1009.09 L666.16,1009.03 L665.63,1008.99 L665.10,1008.99 L664.59,1009.01 L664.09,1009.06 L663.61,1009.15 L663.15,1009.27 L662.70,1009.42 L662.27,1009.61 L661.87,1009.84 L661.50,1010.13 L661.17,1010.49 L660.91,1010.98 L660.67,1011.48 L659.84,1010.78 L659.12,1010.34 L658.44,1009.99 L657.78,1009.70 L657.14,1009.45 L656.52,1009.24 L655.91,1009.06 L655.31,1008.91 L654.72,1008.79 L654.15,1008.69 L653.59,1008.62 L653.05,1008.58 L652.52,1008.56 L652.00,1008.56 L651.50,1008.59 L651.02,1008.64 L650.55,1008.71 L650.11,1008.82 L649.68,1008.94 L649.27,1009.09 L648.88,1009.27 L648.52,1009.47 L648.18,1009.70 L647.87,1009.96 L647.59,1010.26 L647.35,1010.59 L647.16,1010.98 L647.04,1011.44 L647.08,1012.09 L646.43,1011.91 L645.49,1011.39 L644.68,1011.05 L643.94,1010.80 L643.25,1010.61 L642.60,1010.47 L641.99,1010.38 L641.41,1010.33 L640.87,1010.32 L640.36,1010.35 L639.89,1010.42 L639.45,1010.53 L639.05,1010.67 L638.69,1010.85 L638.36,1011.06 L638.08,1011.32 L637.84,1011.61 L637.65,1011.94 L637.51,1012.32 L637.44,1012.75 L637.44,1013.24 L637.57,1013.83 L638.02,1014.70 L637.34,1014.57 L636.52,1014.32 L635.81,1014.17 L635.16,1014.08 L634.54,1014.03 L633.96,1014.01 L633.40,1014.01 L632.86,1014.03 L632.34,1014.08 L631.85,1014.14 L631.37,1014.22 L630.91,1014.32 L630.47,1014.43 L630.05,1014.56 L629.65,1014.71 L629.27,1014.87 L628.90,1015.04 L628.56,1015.23 L628.24,1015.44 L627.93,1015.66 L627.65,1015.89 L627.39,1016.13 L627.14,1016.39 L626.92,1016.66 L626.73,1016.95 L626.55,1017.25 L626.40,1017.56 L626.27,1017.89 L626.17,1018.23 L626.10,1018.58 L626.05,1018.95 L626.04,1019.34 L626.07,1019.74 L626.14,1020.17 L626.28,1020.64 L626.51,1021.15 L626.96,1021.78 L626.43,1021.84 L625.49,1021.69 L624.75,1021.65 L624.11,1021.68 L623.53,1021.74 L623.01,1021.84 L622.53,1021.97 L622.10,1022.12 L621.70,1022.30 L621.34,1022.49 L621.02,1022.71 L620.74,1022.94 L620.48,1023.20 L620.27,1023.47 L620.09,1023.76 L619.95,1024.06 L619.84,1024.39 L619.78,1024.73 L619.75,1025.08 L619.75,1025.45 L619.80,1025.84 L619.89,1026.24 L620.03,1026.66 L620.22,1027.10 L620.46,1027.56 L620.78,1028.04 L621.20,1028.56 L621.80,1029.15 L622.37,1029.71 L621.28,1029.63 L620.56,1029.70 L619.98,1029.83 L619.48,1029.99 L619.04,1030.18 L618.66,1030.40 L618.32,1030.63 L618.03,1030.89 L617.78,1031.16 L617.57,1031.44 L617.39,1031.74 L617.26,1032.05 L617.16,1032.38 L617.11,1032.72 L617.09,1033.07 L617.10,1033.43 L617.16,1033.80 L617.26,1034.19 L617.39,1034.58 L617.57,1034.98 L617.78,1035.39 L618.05,1035.81 L618.36,1036.25 L618.72,1036.69 L619.15,1037.14 L619.67,1037.61 L620.32,1038.11 L621.36,1038.69 L620.70,1038.87 L620.01,1039.06 L619.51,1039.29 L619.11,1039.55 L618.78,1039.83 L618.51,1040.12 L618.29,1040.43 L618.12,1040.75 L617.99,1041.08 L617.90,1041.42 L617.85,1041.77 L617.84,1042.13 L617.87,1042.50 L617.93,1042.87 L618.04,1043.24 L618.18,1043.63 L618.35,1044.01 L618.57,1044.41 L618.82,1044.80 L619.11,1045.20 L619.45,1045.60 L619.82,1046.00 L620.23,1046.41 L620.70,1046.82 L621.22,1047.22 L621.81,1047.63 L622.51,1048.05 L623.42,1048.47 L623.78,1048.84 L623.11,1049.15 L622.71,1049.49 L622.43,1049.83 L622.23,1050.19 L622.09,1050.56 L622.00,1050.92 L621.95,1051.30 L621.95,1051.68 L621.99,1052.06 L622.07,1052.44 L622.18,1052.83 L622.33,1053.21 L622.52,1053.60 L622.74,1053.98 L623.00,1054.37 L623.29,1054.75 L623.61,1055.14 L623.97,1055.52 L624.36,1055.89 L624.79,1056.26 L625.25,1056.63 L625.75,1056.99 L626.30,1057.34 L626.88,1057.69 L627.53,1058.02 L628.25,1058.35 L629.10,1058.65 L630.63,1058.86 L629.65,1059.37 L629.37,1059.81 L629.22,1060.23 L629.16,1060.66 L629.16,1061.07 L629.20,1061.49 L629.29,1061.90 L629.42,1062.31 L629.59,1062.71 L629.79,1063.11 L630.03,1063.50 L630.29,1063.89 L630.59,1064.27 L630.92,1064.65 L631.28,1065.02 L631.67,1065.38 L632.08,1065.74 L632.53,1066.08 L633.00,1066.42 L633.51,1066.74 L634.04,1067.05 L634.60,1067.35 L635.19,1067.64 L635.82,1067.91 L636.49,1068.16 L637.21,1068.39 L638.01,1068.57 L639.00,1068.68 L639.22,1069.07 L639.06,1069.63 L639.06,1070.12 L639.15,1070.59 L639.29,1071.05 L639.47,1071.49 L639.70,1071.92 L639.95,1072.33 L640.24,1072.74 L640.56,1073.14 L640.90,1073.52 L641.27,1073.89 L641.67,1074.25 L642.09,1074.60 L642.53,1074.94 L643.00,1075.26 L643.49,1075.57 L644.00,1075.86 L644.53,1076.14 L645.08,1076.41 L645.66,1076.65 L646.25,1076.88 L646.87,1077.09 L647.50,1077.27 L648.17,1077.43 L648.86,1077.56 L649.60,1077.64 L650.43,1077.63 L651.23,1077.64 L651.19,1078.35 L651.34,1078.91 L651.58,1079.42 L651.86,1079.89 L652.18,1080.33 L652.52,1080.76 L652.90,1081.17 L653.30,1081.56 L653.72,1081.93 L654.15,1082.29 L654.61,1082.63 L655.09,1082.95 L655.58,1083.25 L656.09,1083.54 L656.61,1083.81 L657.15,1084.05 L657.70,1084.28 L658.26,1084.49 L658.84,1084.68 L659.43,1084.85 L660.02,1085.00 L660.63,1085.12 L661.25,1085.21 L661.88,1085.27 L662.53,1085.30 L663.19,1085.27 L663.88,1085.17 L664.67,1084.86 L664.99,1085.45 L665.31,1086.07 L665.69,1086.60 L666.11,1087.07 L666.55,1087.50 L667.01,1087.91 L667.48,1088.28 L667.97,1088.64 L668.48,1088.97 L668.99,1089.28 L669.51,1089.57 L670.05,1089.83 L670.59,1090.08 L671.14,1090.30 L671.69,1090.50 L672.25,1090.68 L672.81,1090.83 L673.38,1090.97 L673.95,1091.07 L674.52,1091.16 L675.10,1091.21 L675.67,1091.24 L676.24,1091.24 L676.81,1091.20 L677.38,1091.13 L677.95,1091.01 L678.51,1090.81 L679.07,1090.48 L679.61,1090.49 L680.12,1091.19 L680.64,1091.72 L681.18,1092.17 L681.73,1092.57 L682.28,1092.93 L682.84,1093.26 L683.40,1093.56 L683.96,1093.84 L684.52,1094.09 L685.09,1094.31 L685.65,1094.51 L686.22,1094.68 L686.78,1094.83 L687.34,1094.95 L687.89,1095.05 L688.44,1095.12 L688.99,1095.17 L689.52,1095.19 L690.06,1095.18 L690.58,1095.15 L691.09,1095.09 L691.59,1095.00 L692.08,1094.87 L692.55,1094.70 L693.00,1094.49 L693.43,1094.21 L693.81,1093.83 L694.01,1092.90 L694.85,1093.96 L695.52,1094.48 L696.17,1094.89 L696.80,1095.24 L697.42,1095.55 L698.03,1095.81 L698.64,1096.04 L699.23,1096.25 L699.82,1096.42 L700.40,1096.57 L700.97,1096.69 L701.53,1096.78 L702.08,1096.85 L702.62,1096.89 L703.14,1096.90 L703.65,1096.89 L704.15,1096.85 L704.63,1096.78 L705.09,1096.69 L705.54,1096.57 L705.97,1096.42 L706.37,1096.24 L706.75,1096.03 L707.11,1095.78 L707.44,1095.49 L707.72,1095.15 L707.94,1094.72 L708.03,1094.09 L708.60,1094.22 L709.43,1094.73 L710.17,1095.09 L710.86,1095.37 L711.53,1095.60 L712.17,1095.79 L712.79,1095.94 L713.40,1096.06 L713.98,1096.15 L714.55,1096.22 L715.09,1096.25 L715.62,1096.26 L716.13,1096.24 L716.62,1096.19 L717.09,1096.12 L717.53,1096.03 L717.96,1095.90 L718.36,1095.76 L718.73,1095.58 L719.08,1095.38 L719.41,1095.15 L719.70,1094.90 L719.97,1094.61 L720.19,1094.30 L720.38,1093.94 L720.52,1093.54 L720.58,1093.08 L720.52,1092.49 L720.47,1091.92 L721.53,1092.47 L722.35,1092.77 L723.09,1092.97 L723.77,1093.11 L724.41,1093.21 L725.02,1093.27 L725.60,1093.30 L726.15,1093.30 L726.68,1093.28 L727.18,1093.22 L727.65,1093.15 L728.09,1093.04 L728.51,1092.91 L728.90,1092.76 L729.26,1092.59 L729.59,1092.39 L729.89,1092.16 L730.16,1091.92 L730.40,1091.65 L730.61,1091.35 L730.78,1091.04 L730.91,1090.69 L731.01,1090.32 L731.05,1089.92 L731.04,1089.48 L730.96,1089.00 L730.76,1088.43 L730.23,1087.65 L731.10,1087.85 L732.00,1088.07 L732.75,1088.18 L733.42,1088.23 L734.03,1088.23 L734.60,1088.20 L735.13,1088.14 L735.62,1088.05 L736.08,1087.93 L736.51,1087.80 L736.90,1087.63 L737.25,1087.45 L737.58,1087.24 L737.87,1087.02 L738.13,1086.77 L738.35,1086.50 L738.54,1086.22 L738.69,1085.91 L738.81,1085.58 L738.89,1085.24 L738.94,1084.87 L738.94,1084.49 L738.89,1084.08 L738.80,1083.66 L738.65,1083.20 L738.43,1082.71 L738.10,1082.17 L737.55,1081.53 L737.53,1081.16 L738.54,1081.31 L739.28,1081.32 L739.91,1081.26 L740.47,1081.17 L740.97,1081.04 L741.42,1080.89 L741.83,1080.71 L742.20,1080.51 L742.53,1080.29 L742.82,1080.05 L743.07,1079.80 L743.29,1079.52 L743.47,1079.23 L743.61,1078.93 Z"/><path d="M735.29,1075.43 L735.67,1074.45 L735.99,1073.45 L736.27,1072.42 L736.49,1071.38 L736.65,1070.32 L736.76,1069.24 L736.81,1068.15 L736.81,1067.04 L736.76,1065.91 L736.65,1064.77 L736.48,1063.62 L736.26,1062.46 L735.99,1061.29 L735.66,1060.12 L735.28,1058.93 L734.84,1057.74 L734.35,1056.54 L733.81,1055.34 L733.22,1054.14 L732.58,1052.93 L731.88,1051.73 L731.14,1050.53 L730.34,1049.32 L729.50,1048.13 L728.61,1046.93 L727.67,1045.74 L726.69,1044.56 L725.66,1043.39 L724.59,1042.23 L723.47,1041.07 L722.32,1039.93 L721.12,1038.80 L719.88,1037.69 L718.61,1036.58 L717.29,1035.50 L715.95,1034.43 L714.57,1033.38 L713.15,1032.35 L711.70,1031.34 L710.23,1030.35 L708.72,1029.38 L707.19,1028.44 L705.63,1027.52 L704.05,1026.62 L702.44,1025.75 L700.82,1024.91 L699.17,1024.09 L697.51,1023.30 L695.83,1022.54 L694.14,1021.81 L692.43,1021.11 L690.71,1020.45 L688.99,1019.81 L687.25,1019.21 L685.51,1018.64 L683.77,1018.10 L682.02,1017.60 L680.27,1017.13 L678.52,1016.70 L676.78,1016.30 L675.04,1015.94 L673.30,1015.61 L671.58,1015.33 L669.86,1015.07 L668.15,1014.86 L666.46,1014.68 L664.78,1014.54 L663.12,1014.44 L661.47,1014.38 L659.85,1014.35 L658.25,1014.36 L656.66,1014.41 L655.11,1014.50 L653.57,1014.62 L652.07,1014.79 L650.59,1014.99 L649.15,1015.22 L647.73,1015.50 L646.35,1015.81 L645.01,1016.16 L643.70,1016.54 L642.42,1016.96 L641.19,1017.41 L639.99,1017.90 L638.83,1018.42 L637.72,1018.98 L636.65,1019.57 L635.62,1020.20 L634.64,1020.85 L633.70,1021.54 L632.81,1022.25 L631.97,1023.00 L631.18,1023.78 L630.44,1024.58 L629.74,1025.42 L629.10,1026.28 L628.51,1027.16 L627.97,1028.07 L627.48,1029.01 L627.05,1029.97 L626.66,1030.95 L626.34,1031.95 L626.07,1032.98 L625.85,1034.02 L625.68,1035.08 L625.57,1036.16 L625.52,1037.25 L625.52,1038.36 L625.58,1039.49 L625.69,1040.63 L625.85,1041.78 L626.07,1042.94 L626.34,1044.11 L626.67,1045.28 L627.06,1046.47 L627.49,1047.66 L627.98,1048.86 L628.52,1050.06 L629.11,1051.26 L629.76,1052.47 L630.45,1053.67 L631.20,1054.87 L631.99,1056.08 L632.83,1057.27 L633.72,1058.47 L634.66,1059.66 L635.64,1060.84 L636.67,1062.01 L637.75,1063.17 L638.86,1064.33 L640.02,1065.47 L641.21,1066.60 L642.45,1067.71 L643.73,1068.82 L645.04,1069.90 L646.38,1070.97 L647.77,1072.02 L649.18,1073.05 L650.63,1074.06 L652.10,1075.05 L653.61,1076.02 L655.14,1076.96 L656.70,1077.88 L658.28,1078.78 L659.89,1079.65 L661.51,1080.49 L663.16,1081.31 L664.82,1082.10 L666.50,1082.86 L668.19,1083.59 L669.90,1084.29 L671.62,1084.95 L673.34,1085.59 L675.08,1086.19 L676.82,1086.76 L678.56,1087.30 L680.31,1087.80 L682.06,1088.27 L683.81,1088.70 L685.55,1089.10 L687.29,1089.46 L689.03,1089.79 L690.75,1090.07 L692.47,1090.33 L694.18,1090.54 L695.87,1090.72 L697.55,1090.86 L699.21,1090.96 L700.86,1091.02 L702.48,1091.05 L704.09,1091.04 L705.67,1090.99 L707.23,1090.90 L708.76,1090.78 L710.26,1090.61 L711.74,1090.41 L713.18,1090.18 L714.60,1089.90 L715.98,1089.59 L717.33,1089.24 L718.64,1088.86 L719.91,1088.44 L721.15,1087.99 L722.34,1087.50 L723.50,1086.98 L724.61,1086.42 L725.68,1085.83 L726.71,1085.20 L727.69,1084.55 L728.63,1083.86 L729.52,1083.15 L730.36,1082.40 L731.15,1081.62 L731.90,1080.82 L732.59,1079.98 L733.23,1079.12 L733.83,1078.24 L734.37,1077.33 L734.85,1076.39 L735.29,1075.43 Z"/></g>
</svg>
</body></html>
